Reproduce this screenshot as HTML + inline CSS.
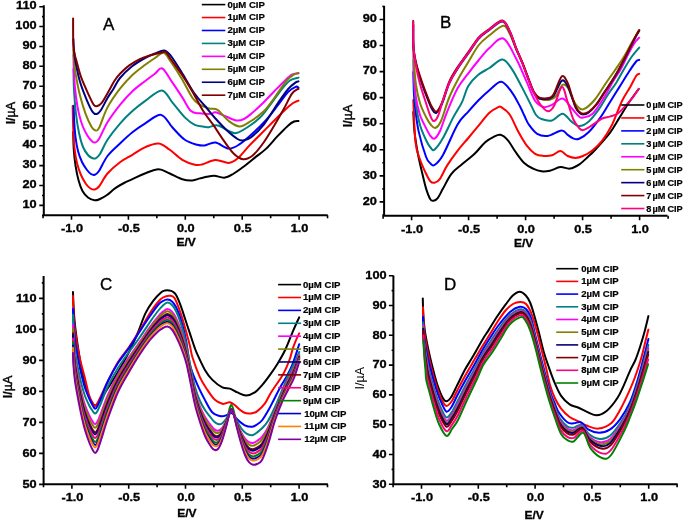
<!DOCTYPE html><html><head><meta charset="utf-8"><style>html,body{margin:0;padding:0;background:#fff;}svg{display:block;filter:blur(0.55px);}text{font-family:"Liberation Sans", sans-serif;}</style></head><body>
<svg width="685" height="521" viewBox="0 0 685 521">
<rect width="685" height="521" fill="#fff"/>
<g><path d="M73.20 132.00 C73.30 135.00 73.40 144.33 73.80 150.00 C74.20 155.67 74.80 160.92 75.60 166.00 C76.40 171.08 77.45 176.33 78.60 180.50 C79.75 184.67 80.93 188.17 82.50 191.00 C84.07 193.83 85.98 195.95 88.00 197.50 C90.02 199.05 92.60 200.05 94.60 200.30 C96.60 200.55 97.93 199.88 100.00 199.00 C102.07 198.12 104.50 196.77 107.00 195.00 C109.50 193.23 112.17 190.40 115.00 188.40 C117.83 186.40 121.10 184.53 124.00 183.00 C126.90 181.47 128.92 180.78 132.40 179.20 C135.88 177.62 140.53 175.17 144.90 173.50 C149.27 171.83 154.45 169.20 158.60 169.20 C162.75 169.20 165.85 171.83 169.80 173.50 C173.75 175.17 178.55 178.05 182.30 179.20 C186.05 180.35 189.35 180.53 192.30 180.40 C195.25 180.27 197.62 179.00 200.00 178.40 C202.38 177.80 204.22 177.25 206.60 176.80 C208.98 176.35 211.35 175.55 214.30 175.70 C217.25 175.85 221.17 177.98 224.30 177.70 C227.43 177.42 229.78 175.92 233.10 174.00 C236.42 172.08 240.52 168.97 244.20 166.20 C247.88 163.43 251.53 160.33 255.20 157.40 C258.87 154.47 262.52 152.10 266.20 148.60 C269.88 145.10 273.62 140.27 277.30 136.40 C280.98 132.53 285.52 127.88 288.30 125.40 C291.08 122.92 292.30 122.23 294.00 121.50 C295.70 120.77 297.75 121.08 298.50 121.00" fill="none" stroke="#000000" stroke-width="2.0" stroke-linejoin="round" stroke-linecap="round"/><path d="M72.70 106.00 C72.78 109.67 72.90 121.00 73.20 128.00 C73.50 135.00 73.87 142.17 74.50 148.00 C75.13 153.83 75.92 158.50 77.00 163.00 C78.08 167.50 79.50 171.50 81.00 175.00 C82.50 178.50 84.42 181.75 86.00 184.00 C87.58 186.25 89.07 187.58 90.50 188.50 C91.93 189.42 93.18 189.83 94.60 189.50 C96.02 189.17 96.85 189.17 99.00 186.50 C101.15 183.83 104.00 177.55 107.50 173.50 C111.00 169.45 115.85 165.32 120.00 162.20 C124.15 159.08 128.25 157.28 132.40 154.80 C136.55 152.32 140.53 149.18 144.90 147.30 C149.27 145.42 154.45 143.08 158.60 143.50 C162.75 143.92 165.85 147.08 169.80 149.80 C173.75 152.52 178.13 157.32 182.30 159.80 C186.47 162.28 191.52 163.92 194.80 164.70 C198.08 165.48 198.55 165.28 202.00 164.50 C205.45 163.72 211.05 160.27 215.50 160.00 C219.95 159.73 225.03 163.15 228.70 162.90 C232.37 162.65 234.18 161.25 237.50 158.50 C240.82 155.75 244.92 150.27 248.60 146.40 C252.28 142.53 255.57 139.37 259.60 135.30 C263.63 131.23 268.75 126.05 272.80 122.00 C276.85 117.95 280.58 114.12 283.90 111.00 C287.22 107.88 290.27 105.03 292.70 103.30 C295.13 101.57 297.53 101.05 298.50 100.60" fill="none" stroke="#ff0000" stroke-width="2.0" stroke-linejoin="round" stroke-linecap="round"/><path d="M73.80 105.70 C73.85 108.08 73.82 114.78 74.10 120.00 C74.38 125.22 74.85 131.83 75.50 137.00 C76.15 142.17 76.92 146.83 78.00 151.00 C79.08 155.17 80.50 158.83 82.00 162.00 C83.50 165.17 85.50 168.00 87.00 170.00 C88.50 172.00 89.73 173.20 91.00 174.00 C92.27 174.80 93.27 175.30 94.60 174.80 C95.93 174.30 96.85 174.13 99.00 171.00 C101.15 167.87 104.00 160.58 107.50 156.00 C111.00 151.42 115.85 147.45 120.00 143.50 C124.15 139.55 128.25 135.62 132.40 132.30 C136.55 128.98 140.12 126.50 144.90 123.60 C149.68 120.70 156.53 114.28 161.10 114.90 C165.67 115.52 168.35 123.15 172.30 127.30 C176.25 131.45 180.65 136.88 184.80 139.80 C188.95 142.72 193.88 143.85 197.20 144.80 C200.52 145.75 201.65 145.87 204.70 145.50 C207.75 145.13 211.50 142.08 215.50 142.60 C219.50 143.12 224.67 148.33 228.70 148.60 C232.73 148.87 235.65 146.78 239.70 144.20 C243.75 141.62 248.58 137.15 253.00 133.10 C257.42 129.05 262.15 124.42 266.20 119.90 C270.25 115.38 273.67 110.65 277.30 106.00 C280.93 101.35 284.93 95.20 288.00 92.00 C291.07 88.80 293.95 87.53 295.70 86.80 C297.45 86.07 298.03 87.47 298.50 87.60" fill="none" stroke="#0000ff" stroke-width="2.0" stroke-linejoin="round" stroke-linecap="round"/><path d="M73.50 69.00 C73.58 72.50 73.58 82.50 74.00 90.00 C74.42 97.50 75.17 106.83 76.00 114.00 C76.83 121.17 77.83 127.50 79.00 133.00 C80.17 138.50 81.50 143.33 83.00 147.00 C84.50 150.67 86.50 153.17 88.00 155.00 C89.50 156.83 90.72 157.45 92.00 158.00 C93.28 158.55 94.37 158.97 95.70 158.30 C97.03 157.63 98.03 157.08 100.00 154.00 C101.97 150.92 104.17 144.87 107.50 139.80 C110.83 134.73 115.85 128.38 120.00 123.60 C124.15 118.82 128.25 114.85 132.40 111.10 C136.55 107.35 140.00 104.55 144.90 101.10 C149.80 97.65 157.23 90.18 161.80 90.40 C166.37 90.62 168.47 97.90 172.30 102.40 C176.13 106.90 181.05 113.67 184.80 117.40 C188.55 121.13 191.48 123.23 194.80 124.80 C198.12 126.37 202.37 126.40 204.70 126.80 C207.03 127.20 206.63 127.43 208.80 127.20 C210.97 126.97 214.38 124.78 217.70 125.40 C221.02 126.02 225.58 129.62 228.70 130.90 C231.82 132.18 233.08 133.83 236.40 133.10 C239.72 132.37 244.67 129.10 248.60 126.50 C252.53 123.90 256.60 120.85 260.00 117.50 C263.40 114.15 265.62 110.82 269.00 106.40 C272.38 101.98 276.82 95.32 280.30 91.00 C283.78 86.68 286.87 82.73 289.90 80.50 C292.93 78.27 297.07 78.08 298.50 77.60" fill="none" stroke="#008080" stroke-width="2.0" stroke-linejoin="round" stroke-linecap="round"/><path d="M73.50 55.00 C73.58 58.33 73.58 68.00 74.00 75.00 C74.42 82.00 75.17 90.50 76.00 97.00 C76.83 103.50 77.83 109.00 79.00 114.00 C80.17 119.00 81.50 123.25 83.00 127.00 C84.50 130.75 86.50 134.13 88.00 136.50 C89.50 138.87 90.83 140.20 92.00 141.20 C93.17 142.20 93.83 142.87 95.00 142.50 C96.17 142.13 96.92 142.37 99.00 139.00 C101.08 135.63 104.00 127.98 107.50 122.30 C111.00 116.62 115.85 110.08 120.00 104.90 C124.15 99.72 128.25 95.15 132.40 91.20 C136.55 87.25 141.15 84.12 144.90 81.20 C148.65 78.28 152.00 75.82 154.90 73.70 C157.80 71.58 159.40 67.05 162.30 68.50 C165.20 69.95 168.97 77.58 172.30 82.40 C175.63 87.22 179.18 92.62 182.30 97.40 C185.42 102.18 188.10 108.45 191.00 111.10 C193.90 113.75 196.33 112.85 199.70 113.30 C203.07 113.75 208.58 113.97 211.20 113.80 C213.82 113.63 212.93 111.85 215.40 112.30 C217.87 112.75 222.50 115.13 226.00 116.50 C229.50 117.87 233.40 120.08 236.40 120.50 C239.40 120.92 241.48 120.17 244.00 119.00 C246.52 117.83 248.33 116.17 251.50 113.50 C254.67 110.83 259.17 106.75 263.00 103.00 C266.83 99.25 270.98 94.60 274.50 91.00 C278.02 87.40 281.22 84.12 284.10 81.40 C286.98 78.68 289.40 76.10 291.80 74.70 C294.20 73.30 297.38 73.28 298.50 73.00" fill="none" stroke="#ff00ff" stroke-width="2.0" stroke-linejoin="round" stroke-linecap="round"/><path d="M73.30 49.50 C73.42 51.25 73.65 56.15 74.00 60.00 C74.35 63.85 74.40 66.67 75.40 72.60 C76.40 78.53 78.28 88.68 80.00 95.60 C81.72 102.52 83.78 108.90 85.70 114.10 C87.62 119.30 89.95 124.10 91.50 126.80 C93.05 129.50 93.75 130.10 95.00 130.30 C96.25 130.50 96.92 131.82 99.00 128.00 C101.08 124.18 104.00 113.95 107.50 107.40 C111.00 100.85 115.85 94.10 120.00 88.70 C124.15 83.30 128.25 78.95 132.40 75.00 C136.55 71.05 141.13 67.83 144.90 65.00 C148.67 62.17 151.87 60.03 155.00 58.00 C158.13 55.97 161.03 52.13 163.70 52.80 C166.37 53.47 168.02 57.72 171.00 62.00 C173.98 66.28 178.07 72.58 181.60 78.50 C185.13 84.42 189.38 93.28 192.20 97.50 C195.02 101.72 195.70 101.97 198.50 103.80 C201.30 105.63 205.83 107.48 209.00 108.50 C212.17 109.52 214.22 107.82 217.50 109.90 C220.78 111.98 225.00 118.23 228.70 121.00 C232.40 123.77 235.98 126.50 239.70 126.50 C243.42 126.50 246.95 123.58 251.00 121.00 C255.05 118.42 260.00 115.00 264.00 111.00 C268.00 107.00 271.33 101.93 275.00 97.00 C278.67 92.07 282.88 85.12 286.00 81.40 C289.12 77.68 291.62 76.03 293.70 74.70 C295.78 73.37 297.70 73.62 298.50 73.40" fill="none" stroke="#808000" stroke-width="2.0" stroke-linejoin="round" stroke-linecap="round"/><path d="M73.30 39.00 C73.42 40.83 73.65 46.33 74.00 50.00 C74.35 53.67 74.40 55.70 75.40 61.00 C76.40 66.30 78.08 75.25 80.00 81.80 C81.92 88.35 84.80 95.30 86.90 100.30 C89.00 105.30 90.95 109.52 92.60 111.80 C94.25 114.08 95.40 114.30 96.80 114.00 C98.20 113.70 99.22 112.67 101.00 110.00 C102.78 107.33 105.43 101.50 107.50 98.00 C109.57 94.50 111.32 92.33 113.40 89.00 C115.48 85.67 116.83 81.83 120.00 78.00 C123.17 74.17 128.23 69.33 132.40 66.00 C136.57 62.67 141.23 60.08 145.00 58.00 C148.77 55.92 151.78 54.75 155.00 53.50 C158.22 52.25 161.63 50.08 164.30 50.50 C166.97 50.92 168.12 52.38 171.00 56.00 C173.88 59.62 177.72 65.98 181.60 72.20 C185.48 78.42 190.40 87.67 194.30 93.30 C198.20 98.93 201.55 101.88 205.00 106.00 C208.45 110.12 211.42 114.00 215.00 118.00 C218.58 122.00 222.75 126.50 226.50 130.00 C230.25 133.50 234.75 137.27 237.50 139.00 C240.25 140.73 240.78 140.65 243.00 140.40 C245.22 140.15 247.30 140.18 250.80 137.50 C254.30 134.82 259.47 130.05 264.00 124.30 C268.53 118.55 274.00 108.87 278.00 103.00 C282.00 97.13 285.05 92.53 288.00 89.10 C290.95 85.67 293.95 83.68 295.70 82.40 C297.45 81.12 298.03 81.57 298.50 81.40" fill="none" stroke="#000080" stroke-width="2.0" stroke-linejoin="round" stroke-linecap="round"/><path d="M73.10 18.50 C73.17 23.30 72.93 40.20 73.50 47.30 C74.07 54.40 75.23 56.12 76.50 61.10 C77.77 66.08 79.18 71.83 81.10 77.20 C83.02 82.57 85.88 88.68 88.00 93.30 C90.12 97.92 92.25 102.78 93.80 104.90 C95.35 107.02 95.95 106.38 97.30 106.00 C98.65 105.62 99.98 105.10 101.90 102.60 C103.82 100.10 106.70 94.65 108.80 91.00 C110.90 87.35 112.63 83.58 114.50 80.70 C116.37 77.82 117.53 76.25 120.00 73.70 C122.47 71.15 126.00 67.83 129.30 65.40 C132.60 62.97 136.28 60.78 139.80 59.10 C143.32 57.42 146.88 56.37 150.40 55.30 C153.92 54.23 158.33 53.22 160.90 52.70 C163.47 52.18 164.10 51.07 165.80 52.20 C167.50 53.33 168.47 55.82 171.10 59.50 C173.73 63.18 178.08 69.02 181.60 74.30 C185.12 79.58 188.68 85.22 192.20 91.20 C195.72 97.18 199.18 104.58 202.70 110.20 C206.22 115.82 210.13 120.33 213.30 124.90 C216.47 129.47 218.40 132.92 221.70 137.60 C225.00 142.28 229.55 149.40 233.10 153.00 C236.65 156.60 239.68 158.83 243.00 159.20 C246.32 159.57 249.50 158.07 253.00 155.20 C256.50 152.33 260.33 147.15 264.00 142.00 C267.67 136.85 271.68 129.83 275.00 124.30 C278.32 118.77 281.10 113.87 283.90 108.80 C286.70 103.73 289.52 97.18 291.80 93.90 C294.08 90.62 296.48 89.92 297.60 89.10 C298.72 88.28 298.35 89.02 298.50 89.00" fill="none" stroke="#800000" stroke-width="2.0" stroke-linejoin="round" stroke-linecap="round"/><path d="M43.80 5.20 V215.30 H327.70" fill="none" stroke="#000" stroke-width="2.0"/><text transform="translate(36.60 208.10) scale(1.100 1)" font-size="11.60" font-weight="bold" text-anchor="end" stroke="#000" stroke-width="0.35">10</text><text transform="translate(36.60 188.23) scale(1.100 1)" font-size="11.60" font-weight="bold" text-anchor="end" stroke="#000" stroke-width="0.35">20</text><text transform="translate(36.60 168.36) scale(1.100 1)" font-size="11.60" font-weight="bold" text-anchor="end" stroke="#000" stroke-width="0.35">30</text><text transform="translate(36.60 148.49) scale(1.100 1)" font-size="11.60" font-weight="bold" text-anchor="end" stroke="#000" stroke-width="0.35">40</text><text transform="translate(36.60 128.62) scale(1.100 1)" font-size="11.60" font-weight="bold" text-anchor="end" stroke="#000" stroke-width="0.35">50</text><text transform="translate(36.60 108.75) scale(1.100 1)" font-size="11.60" font-weight="bold" text-anchor="end" stroke="#000" stroke-width="0.35">60</text><text transform="translate(36.60 88.88) scale(1.100 1)" font-size="11.60" font-weight="bold" text-anchor="end" stroke="#000" stroke-width="0.35">70</text><text transform="translate(36.60 69.01) scale(1.100 1)" font-size="11.60" font-weight="bold" text-anchor="end" stroke="#000" stroke-width="0.35">80</text><text transform="translate(36.60 49.14) scale(1.100 1)" font-size="11.60" font-weight="bold" text-anchor="end" stroke="#000" stroke-width="0.35">90</text><text transform="translate(36.60 29.27) scale(1.100 1)" font-size="11.60" font-weight="bold" text-anchor="end" stroke="#000" stroke-width="0.35">100</text><text transform="translate(36.60 9.40) scale(1.100 1)" font-size="11.60" font-weight="bold" text-anchor="end" stroke="#000" stroke-width="0.35">110</text><text transform="translate(72.00 232.10) scale(1.100 1)" font-size="11.60" font-weight="bold" text-anchor="middle" stroke="#000" stroke-width="0.35">-1.0</text><text transform="translate(128.90 232.10) scale(1.100 1)" font-size="11.60" font-weight="bold" text-anchor="middle" stroke="#000" stroke-width="0.35">-0.5</text><text transform="translate(185.80 232.10) scale(1.100 1)" font-size="11.60" font-weight="bold" text-anchor="middle" stroke="#000" stroke-width="0.35">0.0</text><text transform="translate(242.70 232.10) scale(1.100 1)" font-size="11.60" font-weight="bold" text-anchor="middle" stroke="#000" stroke-width="0.35">0.5</text><text transform="translate(299.60 232.10) scale(1.100 1)" font-size="11.60" font-weight="bold" text-anchor="middle" stroke="#000" stroke-width="0.35">1.0</text><path d="M39.30 205.40H43.80M39.30 185.53H43.80M39.30 165.66H43.80M39.30 145.79H43.80M39.30 125.92H43.80M39.30 106.05H43.80M39.30 86.18H43.80M39.30 66.31H43.80M39.30 46.44H43.80M39.30 26.57H43.80M39.30 6.70H43.80M42.00 215.34H43.80M42.00 195.47H43.80M42.00 175.59H43.80M42.00 155.72H43.80M42.00 135.86H43.80M42.00 115.98H43.80M42.00 96.11H43.80M42.00 76.25H43.80M42.00 56.38H43.80M42.00 36.50H43.80M42.00 16.63H43.80M71.50 215.30V219.80M128.40 215.30V219.80M185.30 215.30V219.80M242.20 215.30V219.80M299.10 215.30V219.80M43.05 215.30V218.30M99.95 215.30V218.30M156.85 215.30V218.30M213.75 215.30V218.30M270.65 215.30V218.30M327.55 215.30V218.30" fill="none" stroke="#000" stroke-width="1.6"/><text transform="translate(186.10 246.10) scale(1.060 1)" font-size="11.30" font-weight="bold" text-anchor="middle" stroke="#000" stroke-width="0.3">E/V</text><text transform="translate(14.50 113.10) rotate(-90)" font-size="12.5" text-anchor="middle"><tspan font-weight="bold" stroke="#000" stroke-width="0.2">I/</tspan><tspan font-weight="normal" stroke="#000" stroke-width="0.45">µA</tspan></text><text x="103.00" y="29.80" font-size="17" stroke="#000" stroke-width="0.35">A</text><path d="M201.80 4.60H225.30" stroke="#000000" stroke-width="1.6"/><text x="227.40" y="7.55" font-size="9.6" font-weight="bold" stroke="#000" stroke-width="0.2">0µM CIP</text><path d="M201.80 17.54H225.30" stroke="#ff0000" stroke-width="1.6"/><text x="227.40" y="20.49" font-size="9.6" font-weight="bold" stroke="#000" stroke-width="0.2">1µM CIP</text><path d="M201.80 30.48H225.30" stroke="#0000ff" stroke-width="1.6"/><text x="227.40" y="33.43" font-size="9.6" font-weight="bold" stroke="#000" stroke-width="0.2">2µM CIP</text><path d="M201.80 43.42H225.30" stroke="#008080" stroke-width="1.6"/><text x="227.40" y="46.37" font-size="9.6" font-weight="bold" stroke="#000" stroke-width="0.2">3µM CIP</text><path d="M201.80 56.36H225.30" stroke="#ff00ff" stroke-width="1.6"/><text x="227.40" y="59.31" font-size="9.6" font-weight="bold" stroke="#000" stroke-width="0.2">4µM CIP</text><path d="M201.80 69.30H225.30" stroke="#808000" stroke-width="1.6"/><text x="227.40" y="72.25" font-size="9.6" font-weight="bold" stroke="#000" stroke-width="0.2">5µM CIP</text><path d="M201.80 82.24H225.30" stroke="#000080" stroke-width="1.6"/><text x="227.40" y="85.19" font-size="9.6" font-weight="bold" stroke="#000" stroke-width="0.2">6µM CIP</text><path d="M201.80 95.18H225.30" stroke="#800000" stroke-width="1.6"/><text x="227.40" y="98.13" font-size="9.6" font-weight="bold" stroke="#000" stroke-width="0.2">7µM CIP</text></g>
<g><path d="M413.30 112.00 C413.50 115.27 413.77 124.82 414.50 131.60 C415.23 138.38 416.47 146.02 417.70 152.70 C418.93 159.38 420.50 165.72 421.90 171.70 C423.30 177.68 424.70 184.02 426.10 188.60 C427.50 193.18 429.07 197.17 430.30 199.20 C431.53 201.23 432.27 200.98 433.50 200.80 C434.73 200.62 436.12 200.13 437.70 198.10 C439.28 196.07 440.72 192.65 443.00 188.60 C445.28 184.55 448.23 177.85 451.40 173.80 C454.57 169.75 458.13 167.63 462.00 164.30 C465.87 160.97 470.73 157.48 474.60 153.80 C478.47 150.12 482.03 145.02 485.20 142.20 C488.37 139.38 491.08 138.13 493.60 136.90 C496.12 135.67 497.95 134.27 500.30 134.80 C502.65 135.33 505.07 137.12 507.70 140.10 C510.33 143.08 513.30 148.83 516.10 152.70 C518.90 156.57 521.68 160.65 524.50 163.30 C527.32 165.95 530.18 167.27 533.00 168.60 C535.82 169.93 538.58 170.95 541.40 171.30 C544.22 171.65 546.73 171.40 549.90 170.70 C553.07 170.00 557.07 167.45 560.40 167.10 C563.73 166.75 566.73 169.07 569.90 168.60 C573.07 168.13 576.42 166.23 579.40 164.30 C582.38 162.37 585.20 159.38 587.80 157.00 C590.40 154.62 591.32 154.02 595.00 150.00 C598.68 145.98 605.82 138.30 609.90 132.90 C613.98 127.50 616.30 122.72 619.50 117.60 C622.70 112.48 625.90 106.97 629.10 102.20 C632.30 97.43 637.10 91.20 638.70 89.00" fill="none" stroke="#000000" stroke-width="2.0" stroke-linejoin="round" stroke-linecap="round"/><path d="M413.30 100.00 C413.67 107.03 414.42 132.37 415.50 142.20 C416.58 152.03 418.03 153.73 419.80 159.00 C421.57 164.27 424.35 170.10 426.10 173.80 C427.85 177.50 428.90 179.72 430.30 181.20 C431.70 182.68 432.92 183.05 434.50 182.70 C436.08 182.35 437.68 181.98 439.80 179.10 C441.92 176.22 444.22 170.15 447.20 165.40 C450.18 160.65 454.18 155.17 457.70 150.60 C461.22 146.03 464.78 142.22 468.30 138.00 C471.82 133.78 475.28 129.52 478.80 125.30 C482.32 121.08 486.23 115.68 489.40 112.70 C492.57 109.72 495.82 108.32 497.80 107.40 C499.78 106.48 499.30 105.97 501.30 107.20 C503.30 108.43 506.98 110.73 509.80 114.80 C512.62 118.87 515.40 126.50 518.20 131.60 C521.00 136.70 523.78 141.70 526.60 145.40 C529.42 149.10 532.28 152.05 535.10 153.80 C537.92 155.55 540.68 155.65 543.50 155.90 C546.32 156.15 549.18 156.10 552.00 155.30 C554.82 154.50 557.78 150.98 560.40 151.10 C563.02 151.22 565.20 154.87 567.70 156.00 C570.20 157.13 572.85 157.90 575.40 157.90 C577.95 157.90 580.13 157.28 583.00 156.00 C585.87 154.72 589.40 152.77 592.60 150.20 C595.80 147.63 599.00 144.75 602.20 140.60 C605.40 136.45 608.50 131.90 611.80 125.30 C615.10 118.70 618.88 107.47 622.00 101.00 C625.12 94.53 628.15 90.67 630.50 86.50 C632.85 82.33 634.65 78.12 636.10 76.00 C637.55 73.88 638.68 74.17 639.20 73.80" fill="none" stroke="#ff0000" stroke-width="2.0" stroke-linejoin="round" stroke-linecap="round"/><path d="M413.30 72.00 C413.42 75.83 413.63 88.58 414.00 95.00 C414.37 101.42 414.72 104.40 415.50 110.50 C416.28 116.60 416.93 123.85 418.70 131.60 C420.47 139.35 424.13 151.68 426.10 157.00 C428.07 162.32 429.10 162.17 430.50 163.50 C431.90 164.83 432.42 166.43 434.50 165.00 C436.58 163.57 439.13 161.68 443.00 154.90 C446.87 148.12 453.48 131.52 457.70 124.30 C461.92 117.08 464.78 115.65 468.30 111.60 C471.82 107.55 475.28 103.57 478.80 100.00 C482.32 96.43 485.65 93.25 489.40 90.20 C493.15 87.15 497.55 81.35 501.30 81.70 C505.05 82.05 508.73 88.08 511.90 92.30 C515.07 96.52 518.20 103.05 520.30 107.00 C522.40 110.95 523.08 113.08 524.50 116.00 C525.92 118.92 526.68 121.53 528.80 124.50 C530.92 127.47 534.05 131.90 537.20 133.80 C540.35 135.70 543.65 136.43 547.70 135.90 C551.75 135.37 558.17 130.77 561.50 130.60 C564.83 130.43 565.77 133.60 567.70 134.90 C569.63 136.20 571.18 137.77 573.10 138.40 C575.02 139.03 576.58 139.77 579.20 138.70 C581.82 137.63 585.28 135.52 588.80 132.00 C592.32 128.48 596.78 122.57 600.30 117.60 C603.82 112.63 606.70 107.32 609.90 102.20 C613.10 97.08 616.30 92.02 619.50 86.90 C622.70 81.78 626.33 75.73 629.10 71.50 C631.87 67.27 634.42 63.43 636.10 61.50 C637.78 59.57 638.68 60.17 639.20 59.90" fill="none" stroke="#0000ff" stroke-width="2.0" stroke-linejoin="round" stroke-linecap="round"/><path d="M413.50 60.00 C413.58 63.33 413.58 72.50 414.00 80.00 C414.42 87.50 415.00 97.50 416.00 105.00 C417.00 112.50 418.33 119.17 420.00 125.00 C421.67 130.83 424.25 136.25 426.00 140.00 C427.75 143.75 429.08 145.90 430.50 147.50 C431.92 149.10 432.42 151.18 434.50 149.60 C436.58 148.02 439.83 143.45 443.00 138.00 C446.17 132.55 450.33 122.88 453.50 116.90 C456.67 110.92 459.53 107.25 462.00 102.10 C464.47 96.95 465.63 90.52 468.30 86.00 C470.97 81.48 474.48 78.00 478.00 75.00 C481.52 72.00 485.33 70.57 489.40 68.00 C493.47 65.43 498.65 59.42 502.40 59.60 C506.15 59.78 508.57 64.35 511.90 69.10 C515.23 73.85 519.23 82.13 522.40 88.10 C525.57 94.07 528.63 100.42 530.90 104.90 C533.17 109.38 534.25 112.65 536.00 115.00 C537.75 117.35 538.73 118.08 541.40 119.00 C544.07 119.92 548.48 121.38 552.00 120.50 C555.52 119.62 559.33 113.60 562.50 113.70 C565.67 113.80 568.22 119.05 571.00 121.10 C573.78 123.15 576.23 125.95 579.20 126.00 C582.17 126.05 585.60 124.08 588.80 121.40 C592.00 118.72 595.20 114.38 598.40 109.90 C601.60 105.42 605.05 98.98 608.00 94.50 C610.95 90.02 613.47 87.17 616.10 83.00 C618.73 78.83 621.23 73.83 623.80 69.50 C626.37 65.17 628.93 60.65 631.50 57.00 C634.07 53.35 637.92 49.17 639.20 47.60" fill="none" stroke="#008080" stroke-width="2.0" stroke-linejoin="round" stroke-linecap="round"/><path d="M413.50 52.00 C413.58 55.83 413.58 67.33 414.00 75.00 C414.42 82.67 415.00 91.33 416.00 98.00 C417.00 104.67 418.33 110.00 420.00 115.00 C421.67 120.00 424.25 124.50 426.00 128.00 C427.75 131.50 429.08 134.23 430.50 136.00 C431.92 137.77 432.92 139.43 434.50 138.60 C436.08 137.77 437.92 135.43 440.00 131.00 C442.08 126.57 444.05 119.17 447.00 112.00 C449.95 104.83 454.15 94.45 457.70 88.00 C461.25 81.55 464.78 77.97 468.30 73.30 C471.82 68.63 475.28 64.22 478.80 60.00 C482.32 55.78 485.30 51.58 489.40 48.00 C493.50 44.42 498.95 36.75 503.40 38.50 C507.85 40.25 512.23 51.30 516.10 58.50 C519.97 65.70 523.43 74.67 526.60 81.70 C529.77 88.73 532.28 96.48 535.10 100.70 C537.92 104.92 540.68 106.30 543.50 107.00 C546.32 107.70 548.83 106.30 552.00 104.90 C555.17 103.50 559.25 98.08 562.50 98.60 C565.75 99.12 568.72 105.00 571.50 108.00 C574.28 111.00 577.28 115.00 579.20 116.60 C581.12 118.20 580.77 118.08 583.00 117.60 C585.23 117.12 589.10 117.05 592.60 113.70 C596.10 110.35 600.60 102.88 604.00 97.50 C607.40 92.12 610.22 86.12 613.00 81.40 C615.78 76.68 618.13 73.80 620.70 69.20 C623.27 64.60 626.10 58.17 628.40 53.80 C630.70 49.43 632.70 45.68 634.50 43.00 C636.30 40.32 638.42 38.58 639.20 37.70" fill="none" stroke="#ff00ff" stroke-width="2.0" stroke-linejoin="round" stroke-linecap="round"/><path d="M413.50 45.00 C413.58 47.83 413.58 55.33 414.00 62.00 C414.42 68.67 415.00 78.17 416.00 85.00 C417.00 91.83 418.33 97.67 420.00 103.00 C421.67 108.33 424.17 113.33 426.00 117.00 C427.83 120.67 429.40 123.20 431.00 125.00 C432.60 126.80 433.93 128.47 435.60 127.80 C437.27 127.13 438.77 125.97 441.00 121.00 C443.23 116.03 446.22 104.83 449.00 98.00 C451.78 91.17 454.48 86.00 457.70 80.00 C460.92 74.00 464.78 67.83 468.30 62.00 C471.82 56.17 475.28 49.45 478.80 45.00 C482.32 40.55 485.30 38.50 489.40 35.30 C493.50 32.10 500.00 26.02 503.40 25.80 C506.80 25.58 507.68 30.13 509.80 34.00 C511.92 37.87 514.00 44.17 516.10 49.00 C518.20 53.83 520.28 57.83 522.40 63.00 C524.52 68.17 526.87 75.17 528.80 80.00 C530.73 84.83 532.13 88.92 534.00 92.00 C535.87 95.08 537.35 97.22 540.00 98.50 C542.65 99.78 547.23 100.12 549.90 99.70 C552.57 99.28 553.90 98.47 556.00 96.00 C558.10 93.53 560.50 86.23 562.50 84.90 C564.50 83.57 566.23 85.48 568.00 88.00 C569.77 90.52 571.43 96.83 573.10 100.00 C574.77 103.17 576.25 105.47 578.00 107.00 C579.75 108.53 580.85 110.37 583.60 109.20 C586.35 108.03 590.77 104.37 594.50 100.00 C598.23 95.63 602.65 87.88 606.00 83.00 C609.35 78.12 611.63 75.03 614.60 70.70 C617.57 66.37 621.07 61.45 623.80 57.00 C626.53 52.55 628.97 47.58 631.00 44.00 C633.03 40.42 634.63 37.67 636.00 35.50 C637.37 33.33 638.67 31.75 639.20 31.00" fill="none" stroke="#808000" stroke-width="2.0" stroke-linejoin="round" stroke-linecap="round"/><path d="M413.30 25.00 C413.35 29.17 413.02 43.00 413.60 50.00 C414.18 57.00 415.40 61.33 416.80 67.00 C418.20 72.67 420.10 78.42 422.00 84.00 C423.90 89.58 426.53 96.33 428.20 100.50 C429.87 104.67 430.70 106.92 432.00 109.00 C433.30 111.08 434.35 113.83 436.00 113.00 C437.65 112.17 439.68 109.00 441.90 104.00 C444.12 99.00 446.67 88.92 449.30 83.00 C451.93 77.08 454.53 73.42 457.70 68.50 C460.87 63.58 464.78 58.50 468.30 53.50 C471.82 48.50 475.28 42.42 478.80 38.50 C482.32 34.58 485.47 32.83 489.40 30.00 C493.33 27.17 499.00 21.17 502.40 21.50 C505.80 21.83 507.52 27.50 509.80 32.00 C512.08 36.50 514.00 43.33 516.10 48.50 C518.20 53.67 520.28 57.75 522.40 63.00 C524.52 68.25 526.87 75.00 528.80 80.00 C530.73 85.00 532.25 89.92 534.00 93.00 C535.75 96.08 536.65 97.58 539.30 98.50 C541.95 99.42 547.43 99.08 549.90 98.50 C552.37 97.92 552.10 97.97 554.10 95.00 C556.10 92.03 559.63 82.20 561.90 80.70 C564.17 79.20 566.10 83.45 567.70 86.00 C569.30 88.55 570.22 92.50 571.50 96.00 C572.78 99.50 574.12 104.25 575.40 107.00 C576.68 109.75 577.93 111.25 579.20 112.50 C580.47 113.75 581.40 114.50 583.00 114.50 C584.60 114.50 586.55 114.17 588.80 112.50 C591.05 110.83 593.95 107.75 596.50 104.50 C599.05 101.25 601.55 96.83 604.10 93.00 C606.65 89.17 609.55 85.00 611.80 81.50 C614.05 78.00 615.35 76.00 617.60 72.00 C619.85 68.00 622.98 62.00 625.30 57.50 C627.62 53.00 629.70 48.58 631.50 45.00 C633.30 41.42 634.82 38.42 636.10 36.00 C637.38 33.58 638.68 31.42 639.20 30.50" fill="none" stroke="#000080" stroke-width="2.0" stroke-linejoin="round" stroke-linecap="round"/><path d="M413.20 21.00 C413.25 25.38 412.93 39.98 413.50 47.30 C414.07 54.62 415.20 59.17 416.60 64.90 C418.00 70.63 419.97 76.08 421.90 81.70 C423.83 87.32 426.52 94.38 428.20 98.60 C429.88 102.82 430.60 104.83 432.00 107.00 C433.40 109.17 434.95 112.30 436.60 111.60 C438.25 110.90 439.78 107.78 441.90 102.80 C444.02 97.82 446.67 87.67 449.30 81.70 C451.93 75.73 454.53 71.92 457.70 67.00 C460.87 62.08 464.78 57.13 468.30 52.20 C471.82 47.27 475.28 41.27 478.80 37.40 C482.32 33.53 485.47 31.82 489.40 29.00 C493.33 26.18 499.00 20.15 502.40 20.50 C505.80 20.85 507.52 26.52 509.80 31.10 C512.08 35.68 514.00 42.73 516.10 48.00 C518.20 53.27 520.28 57.43 522.40 62.70 C524.52 67.97 526.87 74.67 528.80 79.60 C530.73 84.53 532.25 89.30 534.00 92.30 C535.75 95.30 536.65 96.72 539.30 97.60 C541.95 98.48 547.43 98.32 549.90 97.60 C552.37 96.88 552.10 96.85 554.10 93.30 C556.10 89.75 559.63 78.02 561.90 76.30 C564.17 74.58 566.10 79.97 567.70 83.00 C569.30 86.03 570.22 90.65 571.50 94.50 C572.78 98.35 574.12 103.22 575.40 106.10 C576.68 108.98 577.93 110.53 579.20 111.80 C580.47 113.07 581.40 113.70 583.00 113.70 C584.60 113.70 586.55 113.40 588.80 111.80 C591.05 110.20 593.95 107.30 596.50 104.10 C599.05 100.90 601.55 96.43 604.10 92.60 C606.65 88.77 609.55 84.62 611.80 81.10 C614.05 77.58 615.35 75.53 617.60 71.50 C619.85 67.47 622.98 61.38 625.30 56.90 C627.62 52.42 629.70 48.18 631.50 44.60 C633.30 41.02 634.82 37.83 636.10 35.40 C637.38 32.97 638.68 30.90 639.20 30.00" fill="none" stroke="#800000" stroke-width="2.0" stroke-linejoin="round" stroke-linecap="round"/><path d="M413.20 22.00 C413.25 26.22 413.03 39.97 413.50 47.30 C413.97 54.63 414.92 59.88 416.00 66.00 C417.08 72.12 418.33 77.83 420.00 84.00 C421.67 90.17 424.33 97.83 426.00 103.00 C427.67 108.17 428.75 111.98 430.00 115.00 C431.25 118.02 432.17 120.93 433.50 121.10 C434.83 121.27 436.42 119.52 438.00 116.00 C439.58 112.48 441.12 105.50 443.00 100.00 C444.88 94.50 446.85 88.33 449.30 83.00 C451.75 77.67 454.53 73.00 457.70 68.00 C460.87 63.00 464.78 58.00 468.30 53.00 C471.82 48.00 475.28 41.92 478.80 38.00 C482.32 34.08 485.47 32.33 489.40 29.50 C493.33 26.67 499.00 20.67 502.40 21.00 C505.80 21.33 507.52 26.92 509.80 31.50 C512.08 36.08 514.00 43.17 516.10 48.50 C518.20 53.83 520.28 58.17 522.40 63.50 C524.52 68.83 526.87 75.58 528.80 80.50 C530.73 85.42 532.13 89.08 534.00 93.00 C535.87 96.92 537.72 100.95 540.00 104.00 C542.28 107.05 545.37 110.97 547.70 111.30 C550.03 111.63 551.63 110.05 554.00 106.00 C556.37 101.95 559.62 87.63 561.90 87.00 C564.18 86.37 565.78 96.78 567.70 102.20 C569.62 107.62 571.48 115.18 573.40 119.50 C575.32 123.82 577.60 126.33 579.20 128.10 C580.80 129.87 581.08 130.42 583.00 130.10 C584.92 129.78 587.50 128.13 590.70 126.20 C593.90 124.27 599.00 120.10 602.20 118.50 C605.40 116.90 607.33 117.40 609.90 116.60 C612.47 115.80 615.03 115.45 617.60 113.70 C620.17 111.95 622.75 108.82 625.30 106.10 C627.85 103.38 630.67 100.28 632.90 97.40 C635.13 94.52 637.73 90.23 638.70 88.80" fill="none" stroke="#ff0080" stroke-width="2.0" stroke-linejoin="round" stroke-linecap="round"/><path d="M384.10 5.80 V215.80 H667.50" fill="none" stroke="#000" stroke-width="2.0"/><text transform="translate(376.90 204.60) scale(1.100 1)" font-size="11.60" font-weight="bold" text-anchor="end" stroke="#000" stroke-width="0.35">20</text><text transform="translate(376.90 178.54) scale(1.100 1)" font-size="11.60" font-weight="bold" text-anchor="end" stroke="#000" stroke-width="0.35">30</text><text transform="translate(376.90 152.48) scale(1.100 1)" font-size="11.60" font-weight="bold" text-anchor="end" stroke="#000" stroke-width="0.35">40</text><text transform="translate(376.90 126.42) scale(1.100 1)" font-size="11.60" font-weight="bold" text-anchor="end" stroke="#000" stroke-width="0.35">50</text><text transform="translate(376.90 100.36) scale(1.100 1)" font-size="11.60" font-weight="bold" text-anchor="end" stroke="#000" stroke-width="0.35">60</text><text transform="translate(376.90 74.30) scale(1.100 1)" font-size="11.60" font-weight="bold" text-anchor="end" stroke="#000" stroke-width="0.35">70</text><text transform="translate(376.90 48.24) scale(1.100 1)" font-size="11.60" font-weight="bold" text-anchor="end" stroke="#000" stroke-width="0.35">80</text><text transform="translate(376.90 22.18) scale(1.100 1)" font-size="11.60" font-weight="bold" text-anchor="end" stroke="#000" stroke-width="0.35">90</text><text transform="translate(412.10 232.60) scale(1.100 1)" font-size="11.60" font-weight="bold" text-anchor="middle" stroke="#000" stroke-width="0.35">-1.0</text><text transform="translate(469.10 232.60) scale(1.100 1)" font-size="11.60" font-weight="bold" text-anchor="middle" stroke="#000" stroke-width="0.35">-0.5</text><text transform="translate(526.10 232.60) scale(1.100 1)" font-size="11.60" font-weight="bold" text-anchor="middle" stroke="#000" stroke-width="0.35">0.0</text><text transform="translate(583.10 232.60) scale(1.100 1)" font-size="11.60" font-weight="bold" text-anchor="middle" stroke="#000" stroke-width="0.35">0.5</text><text transform="translate(640.10 232.60) scale(1.100 1)" font-size="11.60" font-weight="bold" text-anchor="middle" stroke="#000" stroke-width="0.35">1.0</text><path d="M379.60 201.90H384.10M379.60 175.84H384.10M379.60 149.78H384.10M379.60 123.72H384.10M379.60 97.66H384.10M379.60 71.60H384.10M379.60 45.54H384.10M379.60 19.48H384.10M382.30 214.93H384.10M382.30 188.87H384.10M382.30 162.81H384.10M382.30 136.75H384.10M382.30 110.69H384.10M382.30 84.63H384.10M382.30 58.57H384.10M382.30 32.51H384.10M382.30 6.45H384.10M411.60 215.80V220.30M468.60 215.80V220.30M525.60 215.80V220.30M582.60 215.80V220.30M639.60 215.80V220.30M383.10 215.80V218.80M440.10 215.80V218.80M497.10 215.80V218.80M554.10 215.80V218.80M611.10 215.80V218.80M668.10 215.80V218.80" fill="none" stroke="#000" stroke-width="1.6"/><text transform="translate(523.60 247.10) scale(1.060 1)" font-size="11.30" font-weight="bold" text-anchor="middle" stroke="#000" stroke-width="0.3">E/V</text><text transform="translate(352.30 116.00) rotate(-90)" font-size="12.5" text-anchor="middle"><tspan font-weight="bold" stroke="#000" stroke-width="0.2">I/</tspan><tspan font-weight="normal" stroke="#000" stroke-width="0.45">µA</tspan></text><text x="440.00" y="27.80" font-size="17" stroke="#000" stroke-width="0.35">B</text><path d="M621.20 105.00H644.40" stroke="#000000" stroke-width="1.6"/><text y="108.30" font-size="9.2" font-weight="bold" stroke="#000" stroke-width="0.2"><tspan x="646.2">0</tspan><tspan x="652.4">µM</tspan><tspan x="667.4">CIP</tspan></text><path d="M621.20 117.94H644.40" stroke="#ff0000" stroke-width="1.6"/><text y="121.24" font-size="9.2" font-weight="bold" stroke="#000" stroke-width="0.2"><tspan x="646.2">1</tspan><tspan x="652.4">µM</tspan><tspan x="667.4">CIP</tspan></text><path d="M621.20 130.88H644.40" stroke="#0000ff" stroke-width="1.6"/><text y="134.18" font-size="9.2" font-weight="bold" stroke="#000" stroke-width="0.2"><tspan x="646.2">2</tspan><tspan x="652.4">µM</tspan><tspan x="667.4">CIP</tspan></text><path d="M621.20 143.82H644.40" stroke="#008080" stroke-width="1.6"/><text y="147.12" font-size="9.2" font-weight="bold" stroke="#000" stroke-width="0.2"><tspan x="646.2">3</tspan><tspan x="652.4">µM</tspan><tspan x="667.4">CIP</tspan></text><path d="M621.20 156.76H644.40" stroke="#ff00ff" stroke-width="1.6"/><text y="160.06" font-size="9.2" font-weight="bold" stroke="#000" stroke-width="0.2"><tspan x="646.2">4</tspan><tspan x="652.4">µM</tspan><tspan x="667.4">CIP</tspan></text><path d="M621.20 169.70H644.40" stroke="#808000" stroke-width="1.6"/><text y="173.00" font-size="9.2" font-weight="bold" stroke="#000" stroke-width="0.2"><tspan x="646.2">5</tspan><tspan x="652.4">µM</tspan><tspan x="667.4">CIP</tspan></text><path d="M621.20 182.64H644.40" stroke="#000080" stroke-width="1.6"/><text y="185.94" font-size="9.2" font-weight="bold" stroke="#000" stroke-width="0.2"><tspan x="646.2">6</tspan><tspan x="652.4">µM</tspan><tspan x="667.4">CIP</tspan></text><path d="M621.20 195.58H644.40" stroke="#800000" stroke-width="1.6"/><text y="198.88" font-size="9.2" font-weight="bold" stroke="#000" stroke-width="0.2"><tspan x="646.2">7</tspan><tspan x="652.4">µM</tspan><tspan x="667.4">CIP</tspan></text><path d="M621.20 208.52H644.40" stroke="#ff0080" stroke-width="1.6"/><text y="211.82" font-size="9.2" font-weight="bold" stroke="#000" stroke-width="0.2"><tspan x="646.2">8</tspan><tspan x="652.4">µM</tspan><tspan x="667.4">CIP</tspan></text></g>
<g><path d="M73.00 292.00 C73.08 294.17 73.17 299.50 73.50 305.00 C73.83 310.50 74.13 317.17 75.00 325.00 C75.87 332.83 77.53 344.33 78.70 352.00 C79.87 359.67 80.95 365.50 82.00 371.00 C83.05 376.50 83.75 380.50 85.00 385.00 C86.25 389.50 88.17 394.83 89.50 398.00 C90.83 401.17 92.05 402.75 93.00 404.00 C93.95 405.25 94.45 405.50 95.20 405.50 C95.95 405.50 96.53 405.08 97.50 404.00 C98.47 402.92 99.25 401.67 101.00 399.00 C102.75 396.33 105.17 392.50 108.00 388.00 C110.83 383.50 114.50 378.00 118.00 372.00 C121.50 366.00 125.72 358.50 129.00 352.00 C132.28 345.50 134.97 339.43 137.70 333.00 C140.43 326.57 142.85 318.72 145.40 313.40 C147.95 308.08 150.45 304.55 153.00 301.10 C155.55 297.65 158.70 294.47 160.70 292.70 C162.70 290.93 163.58 290.88 165.00 290.50 C166.42 290.12 167.95 290.23 169.20 290.40 C170.45 290.57 171.35 290.73 172.50 291.50 C173.65 292.27 174.73 292.63 176.10 295.00 C177.47 297.37 179.17 301.62 180.70 305.70 C182.23 309.78 183.77 314.88 185.30 319.50 C186.83 324.12 188.37 328.78 189.90 333.40 C191.43 338.02 193.22 343.62 194.50 347.20 C195.78 350.78 195.87 351.12 197.60 354.90 C199.33 358.68 202.43 365.73 204.90 369.90 C207.37 374.07 209.48 376.98 212.40 379.90 C215.32 382.82 219.48 385.95 222.40 387.40 C225.32 388.85 227.40 387.77 229.90 388.60 C232.40 389.43 234.70 391.27 237.40 392.40 C240.10 393.53 243.20 395.40 246.10 395.40 C249.00 395.40 252.10 394.15 254.80 392.40 C257.50 390.65 259.77 387.82 262.30 384.90 C264.83 381.98 267.43 378.48 270.00 374.90 C272.57 371.32 275.13 367.63 277.70 363.40 C280.27 359.17 282.85 354.88 285.40 349.50 C287.95 344.12 290.70 336.47 293.00 331.10 C295.30 325.73 298.17 319.60 299.20 317.30" fill="none" stroke="#000000" stroke-width="2.0" stroke-linejoin="round" stroke-linecap="round"/><path d="M73.00 296.00 C73.08 298.67 73.17 306.33 73.50 312.00 C73.83 317.67 74.13 323.12 75.00 330.00 C75.87 336.88 77.53 347.13 78.70 353.30 C79.87 359.47 80.95 362.78 82.00 367.00 C83.05 371.22 83.80 373.85 85.00 378.60 C86.20 383.35 87.87 391.35 89.20 395.50 C90.53 399.65 92.00 401.77 93.00 403.50 C94.00 405.23 94.45 405.98 95.20 405.90 C95.95 405.82 96.53 404.65 97.50 403.00 C98.47 401.35 99.25 399.67 101.00 396.00 C102.75 392.33 105.17 386.67 108.00 381.00 C110.83 375.33 114.50 367.67 118.00 362.00 C121.50 356.33 125.33 352.33 129.00 347.00 C132.67 341.67 136.50 335.67 140.00 330.00 C143.50 324.33 147.00 317.67 150.00 313.00 C153.00 308.33 155.83 304.58 158.00 302.00 C160.17 299.42 161.13 298.55 163.00 297.50 C164.87 296.45 167.28 295.62 169.20 295.70 C171.12 295.78 172.58 295.05 174.50 298.00 C176.42 300.95 178.90 308.27 180.70 313.40 C182.50 318.53 183.77 323.42 185.30 328.80 C186.83 334.18 188.70 340.92 189.90 345.70 C191.10 350.48 190.82 352.22 192.50 357.50 C194.18 362.78 197.52 372.00 200.00 377.40 C202.48 382.80 204.92 386.17 207.40 389.90 C209.88 393.63 212.40 397.48 214.90 399.80 C217.40 402.12 220.47 403.27 222.40 403.80 C224.33 404.33 225.23 403.25 226.50 403.00 C227.77 402.75 228.58 401.92 230.00 402.30 C231.42 402.68 233.35 404.05 235.00 405.30 C236.65 406.55 238.40 408.60 239.90 409.80 C241.40 411.00 242.55 411.87 244.00 412.50 C245.45 413.13 247.10 413.52 248.60 413.60 C250.10 413.68 251.55 413.42 253.00 413.00 C254.45 412.58 255.33 412.67 257.30 411.10 C259.27 409.53 262.43 406.82 264.80 403.60 C267.17 400.38 268.58 396.45 271.50 391.80 C274.42 387.15 279.73 379.93 282.30 375.70 C284.87 371.47 285.57 369.43 286.90 366.40 C288.23 363.37 289.28 360.57 290.30 357.50 C291.32 354.43 292.10 350.78 293.00 348.00 C293.90 345.22 294.67 343.23 295.70 340.80 C296.73 338.37 298.62 334.63 299.20 333.40" fill="none" stroke="#ff0000" stroke-width="2.0" stroke-linejoin="round" stroke-linecap="round"/><path d="M73.00 309.00 C73.08 311.17 73.17 316.83 73.50 322.00 C73.83 327.17 74.13 333.33 75.00 340.00 C75.87 346.67 77.53 355.83 78.70 362.00 C79.87 368.17 80.95 372.67 82.00 377.00 C83.05 381.33 83.75 384.33 85.00 388.00 C86.25 391.67 88.17 396.00 89.50 399.00 C90.83 402.00 92.05 404.37 93.00 406.00 C93.95 407.63 94.45 408.80 95.20 408.80 C95.95 408.80 96.53 407.80 97.50 406.00 C98.47 404.20 99.25 402.17 101.00 398.00 C102.75 393.83 105.17 386.83 108.00 381.00 C110.83 375.17 114.50 368.50 118.00 363.00 C121.50 357.50 125.33 353.33 129.00 348.00 C132.67 342.67 136.50 336.33 140.00 331.00 C143.50 325.67 147.00 320.33 150.00 316.00 C153.00 311.67 155.83 307.50 158.00 305.00 C160.17 302.50 161.40 301.90 163.00 301.00 C164.60 300.10 166.10 299.52 167.60 299.60 C169.10 299.68 170.60 300.27 172.00 301.50 C173.40 302.73 174.50 303.92 176.00 307.00 C177.50 310.08 179.33 314.50 181.00 320.00 C182.67 325.50 184.50 332.52 186.00 340.00 C187.50 347.48 188.08 357.42 190.00 364.90 C191.92 372.38 195.02 379.07 197.50 384.90 C199.98 390.73 202.42 395.30 204.90 399.90 C207.38 404.50 209.90 409.82 212.40 412.50 C214.90 415.18 217.97 415.42 219.90 416.00 C221.83 416.58 222.65 416.25 224.00 416.00 C225.35 415.75 226.82 415.00 228.00 414.50 C229.18 414.00 230.18 413.00 231.10 413.00 C232.02 413.00 232.45 413.42 233.50 414.50 C234.55 415.58 235.52 417.70 237.40 419.50 C239.28 421.30 242.32 424.08 244.80 425.30 C247.28 426.52 250.27 426.93 252.30 426.80 C254.33 426.67 255.33 425.63 257.00 424.50 C258.67 423.37 260.33 422.50 262.30 420.00 C264.27 417.50 266.85 412.92 268.80 409.50 C270.75 406.08 271.98 403.42 274.00 399.50 C276.02 395.58 278.75 389.92 280.90 386.00 C283.05 382.08 284.88 379.83 286.90 376.00 C288.92 372.17 290.95 368.30 293.00 363.00 C295.05 357.70 298.17 347.33 299.20 344.20" fill="none" stroke="#0000ff" stroke-width="2.0" stroke-linejoin="round" stroke-linecap="round"/><path d="M73.00 315.00 C73.08 317.50 73.17 324.17 73.50 330.00 C73.83 335.83 74.13 343.00 75.00 350.00 C75.87 357.00 77.53 366.00 78.70 372.00 C79.87 378.00 80.95 382.00 82.00 386.00 C83.05 390.00 83.75 392.67 85.00 396.00 C86.25 399.33 88.17 403.42 89.50 406.00 C90.83 408.58 92.05 410.23 93.00 411.50 C93.95 412.77 94.45 413.68 95.20 413.60 C95.95 413.52 96.53 412.77 97.50 411.00 C98.47 409.23 99.25 407.17 101.00 403.00 C102.75 398.83 105.17 391.83 108.00 386.00 C110.83 380.17 114.50 373.67 118.00 368.00 C121.50 362.33 125.33 357.17 129.00 352.00 C132.67 346.83 136.50 342.00 140.00 337.00 C143.50 332.00 147.00 326.33 150.00 322.00 C153.00 317.67 155.83 313.75 158.00 311.00 C160.17 308.25 161.42 306.90 163.00 305.50 C164.58 304.10 166.00 302.68 167.50 302.60 C169.00 302.52 170.58 303.60 172.00 305.00 C173.42 306.40 174.50 307.83 176.00 311.00 C177.50 314.17 179.33 318.67 181.00 324.00 C182.67 329.33 184.50 336.33 186.00 343.00 C187.50 349.67 188.50 356.67 190.00 364.00 C191.50 371.33 193.33 380.83 195.00 387.00 C196.67 393.17 198.33 397.17 200.00 401.00 C201.67 404.83 203.33 407.42 205.00 410.00 C206.67 412.58 208.50 414.58 210.00 416.50 C211.50 418.42 212.67 420.25 214.00 421.50 C215.33 422.75 216.67 423.67 218.00 424.00 C219.33 424.33 220.67 424.33 222.00 423.50 C223.33 422.67 224.83 420.67 226.00 419.00 C227.17 417.33 228.15 415.00 229.00 413.50 C229.85 412.00 230.35 410.08 231.10 410.00 C231.85 409.92 232.52 411.17 233.50 413.00 C234.48 414.83 235.75 418.50 237.00 421.00 C238.25 423.50 239.67 426.08 241.00 428.00 C242.33 429.92 243.67 431.37 245.00 432.50 C246.33 433.63 247.67 434.38 249.00 434.80 C250.33 435.22 251.67 435.38 253.00 435.00 C254.33 434.62 255.50 433.62 257.00 432.50 C258.50 431.38 260.17 430.22 262.00 428.30 C263.83 426.38 265.83 424.55 268.00 421.00 C270.17 417.45 272.67 412.08 275.00 407.00 C277.33 401.92 279.83 395.67 282.00 390.50 C284.17 385.33 286.00 380.42 288.00 376.00 C290.00 371.58 292.13 368.00 294.00 364.00 C295.87 360.00 298.33 354.00 299.20 352.00" fill="none" stroke="#008080" stroke-width="2.0" stroke-linejoin="round" stroke-linecap="round"/><path d="M73.00 325.26 C73.08 327.67 73.17 334.20 73.50 339.72 C73.83 345.24 74.13 351.64 75.00 358.37 C75.87 365.10 77.53 374.06 78.70 380.10 C79.87 386.15 80.95 390.46 82.00 394.64 C83.05 398.82 83.75 401.62 85.00 405.18 C86.25 408.74 88.17 413.18 89.50 415.99 C90.83 418.80 92.05 420.66 93.00 422.03 C93.95 423.40 94.45 424.29 95.20 424.21 C95.95 424.13 96.53 423.40 97.50 421.53 C98.47 419.66 99.25 417.47 101.00 412.99 C102.75 408.51 105.17 401.06 108.00 394.64 C110.83 388.22 114.50 380.69 118.00 374.48 C121.50 368.27 125.33 362.88 129.00 357.40 C132.67 351.92 136.50 346.68 140.00 341.59 C143.50 336.50 147.00 331.04 150.00 326.86 C153.00 322.68 155.83 319.08 158.00 316.54 C160.17 313.99 161.42 312.82 163.00 311.57 C164.58 310.33 166.00 309.05 167.50 309.05 C169.00 309.06 170.58 310.15 172.00 311.62 C173.42 313.08 174.50 314.74 176.00 317.86 C177.50 320.98 179.33 325.30 181.00 330.34 C182.67 335.39 184.50 341.80 186.00 348.13 C187.50 354.46 188.50 361.04 190.00 368.32 C191.50 375.60 193.33 385.41 195.00 391.81 C196.67 398.20 198.33 402.47 200.00 406.67 C201.67 410.87 203.33 414.10 205.00 417.02 C206.67 419.94 208.50 422.18 210.00 424.20 C211.50 426.21 212.67 428.02 214.00 429.11 C215.33 430.21 216.67 430.90 218.00 430.75 C219.33 430.60 220.67 429.81 222.00 428.22 C223.33 426.64 224.83 423.63 226.00 421.24 C227.17 418.85 228.15 415.82 229.00 413.91 C229.85 411.99 230.35 409.86 231.10 409.73 C231.85 409.60 232.52 410.94 233.50 413.13 C234.48 415.33 235.75 419.74 237.00 422.89 C238.25 426.04 239.67 429.44 241.00 432.05 C242.33 434.66 243.67 436.88 245.00 438.57 C246.33 440.27 247.67 441.46 249.00 442.20 C250.33 442.94 251.67 443.22 253.00 443.02 C254.33 442.82 255.50 442.03 257.00 441.00 C258.50 439.98 260.17 439.14 262.00 436.86 C263.83 434.58 265.83 431.71 268.00 427.35 C270.17 422.98 272.67 416.27 275.00 410.65 C277.33 405.02 279.83 398.75 282.00 393.61 C284.17 388.46 286.00 384.08 288.00 379.78 C290.00 375.48 292.13 371.96 294.00 367.78 C295.87 363.60 298.33 356.88 299.20 354.70" fill="none" stroke="#ff00ff" stroke-width="2.0" stroke-linejoin="round" stroke-linecap="round"/><path d="M73.00 328.68 C73.08 331.06 73.17 337.55 73.50 342.96 C73.83 348.37 74.13 354.52 75.00 361.16 C75.87 367.80 77.53 376.74 78.70 382.80 C79.87 388.86 80.95 393.28 82.00 397.52 C83.05 401.76 83.75 404.61 85.00 408.24 C86.25 411.87 88.17 416.44 89.50 419.32 C90.83 422.20 92.05 424.14 93.00 425.54 C93.95 426.94 94.45 427.83 95.20 427.75 C95.95 427.66 96.53 426.94 97.50 425.04 C98.47 423.14 99.25 420.91 101.00 416.32 C102.75 411.73 105.17 404.13 108.00 397.52 C110.83 390.91 114.50 383.03 118.00 376.64 C121.50 370.25 125.33 364.79 129.00 359.20 C132.67 353.61 136.50 348.24 140.00 343.12 C143.50 338.00 147.00 332.60 150.00 328.48 C153.00 324.36 155.83 320.86 158.00 318.38 C160.17 315.90 161.42 314.80 163.00 313.60 C164.58 312.40 166.00 311.17 167.50 311.20 C169.00 311.24 170.58 312.33 172.00 313.82 C173.42 315.31 174.50 317.04 176.00 320.14 C177.50 323.25 179.33 327.51 181.00 332.46 C182.67 337.41 184.50 343.62 186.00 349.84 C187.50 356.06 188.50 362.50 190.00 369.76 C191.50 377.02 193.33 386.94 195.00 393.41 C196.67 399.87 198.33 404.23 200.00 408.56 C201.67 412.89 203.33 416.33 205.00 419.36 C206.67 422.39 208.50 424.71 210.00 426.76 C211.50 428.81 212.67 430.61 214.00 431.65 C215.33 432.69 216.67 433.31 218.00 433.00 C219.33 432.69 220.67 431.64 222.00 429.80 C223.33 427.96 224.83 424.61 226.00 421.99 C227.17 419.36 228.15 416.10 229.00 414.04 C229.85 411.98 230.35 409.78 231.10 409.64 C231.85 409.50 232.52 410.87 233.50 413.18 C234.48 415.49 235.75 420.15 237.00 423.52 C238.25 426.89 239.67 430.55 241.00 433.40 C242.33 436.25 243.67 438.72 245.00 440.60 C246.33 442.48 247.67 443.82 249.00 444.66 C250.33 445.51 251.67 445.83 253.00 445.69 C254.33 445.55 255.50 444.84 257.00 443.84 C258.50 442.84 260.17 442.11 262.00 439.71 C263.83 437.32 265.83 434.10 268.00 429.46 C270.17 424.82 272.67 417.66 275.00 411.86 C277.33 406.06 279.83 399.78 282.00 394.64 C284.17 389.50 286.00 385.31 288.00 381.04 C290.00 376.77 292.13 373.28 294.00 369.04 C295.87 364.80 298.33 357.84 299.20 355.60" fill="none" stroke="#808000" stroke-width="2.0" stroke-linejoin="round" stroke-linecap="round"/><path d="M73.00 333.24 C73.08 335.58 73.17 342.01 73.50 347.28 C73.83 352.55 74.13 358.36 75.00 364.88 C75.87 371.40 77.53 380.32 78.70 386.40 C79.87 392.48 80.95 397.04 82.00 401.36 C83.05 405.68 83.75 408.59 85.00 412.32 C86.25 416.05 88.17 420.78 89.50 423.76 C90.83 426.74 92.05 428.77 93.00 430.22 C93.95 431.67 94.45 432.55 95.20 432.46 C95.95 432.38 96.53 431.67 97.50 429.72 C98.47 427.77 99.25 425.49 101.00 420.76 C102.75 416.03 105.17 408.23 108.00 401.36 C110.83 394.49 114.50 386.15 118.00 379.52 C121.50 372.89 125.33 367.33 129.00 361.60 C132.67 355.87 136.50 350.32 140.00 345.16 C143.50 340.00 147.00 334.69 150.00 330.64 C153.00 326.59 155.83 323.23 158.00 320.84 C160.17 318.45 161.42 317.43 163.00 316.30 C164.58 315.17 166.00 314.00 167.50 314.07 C169.00 314.15 170.58 315.24 172.00 316.76 C173.42 318.28 174.50 320.11 176.00 323.19 C177.50 326.28 179.33 330.46 181.00 335.28 C182.67 340.10 184.50 346.05 186.00 352.12 C187.50 358.19 188.50 364.44 190.00 371.68 C191.50 378.92 193.33 388.98 195.00 395.54 C196.67 402.11 198.33 406.59 200.00 411.08 C201.67 415.57 203.33 419.30 205.00 422.48 C206.67 425.66 208.50 428.09 210.00 430.18 C211.50 432.27 212.67 434.07 214.00 435.04 C215.33 436.01 216.67 436.52 218.00 436.00 C219.33 435.48 220.67 434.07 222.00 431.90 C223.33 429.73 224.83 425.93 226.00 422.98 C227.17 420.04 228.15 416.46 229.00 414.22 C229.85 411.98 230.35 409.68 231.10 409.52 C231.85 409.36 232.52 410.77 233.50 413.24 C234.48 415.71 235.75 420.70 237.00 424.36 C238.25 428.02 239.67 432.04 241.00 435.20 C242.33 438.36 243.67 441.17 245.00 443.30 C246.33 445.43 247.67 446.96 249.00 447.95 C250.33 448.94 251.67 449.31 253.00 449.26 C254.33 449.20 255.50 448.58 257.00 447.62 C258.50 446.66 260.17 446.07 262.00 443.52 C263.83 440.96 265.83 437.29 268.00 432.28 C270.17 427.27 272.67 419.52 275.00 413.48 C277.33 407.44 279.83 401.15 282.00 396.02 C284.17 390.89 286.00 386.94 288.00 382.72 C290.00 378.50 292.13 375.04 294.00 370.72 C295.87 366.40 298.33 359.12 299.20 356.80" fill="none" stroke="#800000" stroke-width="2.0" stroke-linejoin="round" stroke-linecap="round"/><path d="M73.00 335.14 C73.08 337.46 73.17 343.87 73.50 349.08 C73.83 354.30 74.13 359.96 75.00 366.43 C75.87 372.90 77.53 381.81 78.70 387.90 C79.87 393.99 80.95 398.61 82.00 402.96 C83.05 407.31 83.75 410.25 85.00 414.02 C86.25 417.79 88.17 422.59 89.50 425.61 C90.83 428.63 92.05 430.70 93.00 432.17 C93.95 433.64 94.45 434.51 95.20 434.43 C95.95 434.35 96.53 433.64 97.50 431.67 C98.47 429.70 99.25 427.39 101.00 422.61 C102.75 417.83 105.17 409.94 108.00 402.96 C110.83 395.98 114.50 387.45 118.00 380.72 C121.50 373.99 125.33 368.39 129.00 362.60 C132.67 356.81 136.50 351.19 140.00 346.01 C143.50 340.83 147.00 335.56 150.00 331.54 C153.00 327.52 155.83 324.22 158.00 321.87 C160.17 319.51 161.42 318.52 163.00 317.42 C164.58 316.33 166.00 315.17 167.50 315.27 C169.00 315.36 170.58 316.45 172.00 317.99 C173.42 319.52 174.50 321.38 176.00 324.46 C177.50 327.54 179.33 331.69 181.00 336.46 C182.67 341.22 184.50 347.07 186.00 353.07 C187.50 359.07 188.50 365.25 190.00 372.48 C191.50 379.71 193.33 389.83 195.00 396.43 C196.67 403.04 198.33 407.57 200.00 412.13 C201.67 416.69 203.33 420.53 205.00 423.78 C206.67 427.03 208.50 429.49 210.00 431.61 C211.50 433.72 212.67 435.51 214.00 436.45 C215.33 437.39 216.67 437.86 218.00 437.25 C219.33 436.64 220.67 435.08 222.00 432.77 C223.33 430.47 224.83 426.48 226.00 423.40 C227.17 420.32 228.15 416.62 229.00 414.30 C229.85 411.97 230.35 409.64 231.10 409.47 C231.85 409.30 232.52 410.73 233.50 413.26 C234.48 415.80 235.75 420.93 237.00 424.71 C238.25 428.49 239.67 432.66 241.00 435.95 C242.33 439.24 243.67 442.20 245.00 444.42 C246.33 446.65 247.67 448.27 249.00 449.32 C250.33 450.37 251.67 450.76 253.00 450.74 C254.33 450.72 255.50 450.13 257.00 449.19 C258.50 448.25 260.17 447.72 262.00 445.10 C263.83 442.48 265.83 438.61 268.00 433.45 C270.17 428.30 272.67 420.30 275.00 414.15 C277.33 408.01 279.83 401.72 282.00 396.60 C284.17 391.47 286.00 387.62 288.00 383.42 C290.00 379.22 292.13 375.77 294.00 371.42 C295.87 367.07 298.33 359.65 299.20 357.30" fill="none" stroke="#000080" stroke-width="2.0" stroke-linejoin="round" stroke-linecap="round"/><path d="M73.00 338.56 C73.08 340.85 73.17 347.21 73.50 352.32 C73.83 357.43 74.13 362.84 75.00 369.22 C75.87 375.60 77.53 384.50 78.70 390.60 C79.87 396.70 80.95 401.43 82.00 405.84 C83.05 410.25 83.75 413.23 85.00 417.08 C86.25 420.93 88.17 425.84 89.50 428.94 C90.83 432.04 92.05 434.18 93.00 435.68 C93.95 437.18 94.45 438.05 95.20 437.97 C95.95 437.88 96.53 437.18 97.50 435.18 C98.47 433.18 99.25 430.83 101.00 425.94 C102.75 421.05 105.17 413.02 108.00 405.84 C110.83 398.66 114.50 389.79 118.00 382.88 C121.50 375.97 125.33 370.29 129.00 364.40 C132.67 358.51 136.50 352.75 140.00 347.54 C143.50 342.33 147.00 337.13 150.00 333.16 C153.00 329.19 155.83 326.00 158.00 323.71 C160.17 321.43 161.42 320.50 163.00 319.45 C164.58 318.40 166.00 317.29 167.50 317.42 C169.00 317.54 170.58 318.63 172.00 320.19 C173.42 321.75 174.50 323.68 176.00 326.75 C177.50 329.81 179.33 333.90 181.00 338.57 C182.67 343.24 184.50 348.89 186.00 354.78 C187.50 360.67 188.50 366.71 190.00 373.92 C191.50 381.13 193.33 391.35 195.00 398.04 C196.67 404.72 198.33 409.34 200.00 414.02 C201.67 418.70 203.33 422.76 205.00 426.12 C206.67 429.48 208.50 432.03 210.00 434.17 C211.50 436.31 212.67 438.10 214.00 438.98 C215.33 439.87 216.67 440.27 218.00 439.50 C219.33 438.73 220.67 436.91 222.00 434.35 C223.33 431.79 224.83 427.47 226.00 424.15 C227.17 420.83 228.15 416.89 229.00 414.43 C229.85 411.97 230.35 409.57 231.10 409.38 C231.85 409.19 232.52 410.65 233.50 413.31 C234.48 415.97 235.75 421.34 237.00 425.34 C238.25 429.34 239.67 433.78 241.00 437.30 C242.33 440.82 243.67 444.04 245.00 446.45 C246.33 448.86 247.67 450.63 249.00 451.79 C250.33 452.95 251.67 453.37 253.00 453.41 C254.33 453.45 255.50 452.94 257.00 452.03 C258.50 451.12 260.17 450.70 262.00 447.95 C263.83 445.21 265.83 441.00 268.00 435.57 C270.17 430.14 272.67 421.69 275.00 415.37 C277.33 409.05 279.83 402.75 282.00 397.63 C284.17 392.51 286.00 388.84 288.00 384.68 C290.00 380.52 292.13 377.09 294.00 372.68 C295.87 368.27 298.33 360.61 299.20 358.20" fill="none" stroke="#ff0080" stroke-width="2.0" stroke-linejoin="round" stroke-linecap="round"/><path d="M73.00 342.36 C73.08 344.62 73.17 350.93 73.50 355.92 C73.83 360.91 74.13 366.04 75.00 372.32 C75.87 378.60 77.53 387.48 78.70 393.60 C79.87 399.72 80.95 404.56 82.00 409.04 C83.05 413.52 83.75 416.55 85.00 420.48 C86.25 424.41 88.17 429.46 89.50 432.64 C90.83 435.82 92.05 438.04 93.00 439.58 C93.95 441.12 94.45 441.98 95.20 441.90 C95.95 441.81 96.53 441.12 97.50 439.08 C98.47 437.04 99.25 434.65 101.00 429.64 C102.75 424.63 105.17 416.43 108.00 409.04 C110.83 401.65 114.50 392.39 118.00 385.28 C121.50 378.17 125.33 372.41 129.00 366.40 C132.67 360.39 136.50 354.48 140.00 349.24 C143.50 344.00 147.00 338.87 150.00 334.96 C153.00 331.05 155.83 327.97 158.00 325.76 C160.17 323.55 161.42 322.69 163.00 321.70 C164.58 320.71 166.00 319.65 167.50 319.81 C169.00 319.96 170.58 321.06 172.00 322.64 C173.42 324.22 174.50 326.24 176.00 329.29 C177.50 332.33 179.33 336.35 181.00 340.92 C182.67 345.49 184.50 350.91 186.00 356.68 C187.50 362.45 188.50 368.33 190.00 375.52 C191.50 382.71 193.33 393.05 195.00 399.82 C196.67 406.58 198.33 411.30 200.00 416.12 C201.67 420.94 203.33 425.24 205.00 428.72 C206.67 432.20 208.50 434.84 210.00 437.02 C211.50 439.20 212.67 440.97 214.00 441.80 C215.33 442.63 216.67 442.95 218.00 442.00 C219.33 441.05 220.67 438.94 222.00 436.10 C223.33 433.26 224.83 429.16 226.00 424.98 C227.17 420.79 228.15 414.33 229.00 411.00 C229.85 407.67 230.35 405.17 231.10 405.00 C231.85 404.83 232.52 406.49 233.50 410.00 C234.48 413.51 235.75 421.24 237.00 426.04 C238.25 430.84 239.67 435.02 241.00 438.80 C242.33 442.58 243.67 446.08 245.00 448.70 C246.33 451.32 247.67 453.25 249.00 454.53 C250.33 455.81 251.67 456.28 253.00 456.38 C254.33 456.49 255.50 456.06 257.00 455.18 C258.50 454.30 260.17 454.00 262.00 451.12 C263.83 448.25 265.83 443.65 268.00 437.92 C270.17 432.19 272.67 423.24 275.00 416.72 C277.33 410.20 279.83 403.89 282.00 398.78 C284.17 393.67 286.00 390.20 288.00 386.08 C290.00 381.96 292.13 378.56 294.00 374.08 C295.87 369.60 298.33 361.68 299.20 359.20" fill="none" stroke="#008000" stroke-width="2.0" stroke-linejoin="round" stroke-linecap="round"/><path d="M73.00 345.40 C73.08 347.63 73.17 353.90 73.50 358.80 C73.83 363.70 74.13 368.60 75.00 374.80 C75.87 381.00 77.53 389.87 78.70 396.00 C79.87 402.13 80.95 407.07 82.00 411.60 C83.05 416.13 83.75 419.20 85.00 423.20 C86.25 427.20 88.17 432.35 89.50 435.60 C90.83 438.85 92.05 441.13 93.00 442.70 C93.95 444.27 94.45 445.12 95.20 445.04 C95.95 444.96 96.53 444.27 97.50 442.20 C98.47 440.13 99.25 437.70 101.00 432.60 C102.75 427.50 105.17 419.17 108.00 411.60 C110.83 404.03 114.50 394.47 118.00 387.20 C121.50 379.93 125.33 374.10 129.00 368.00 C132.67 361.90 136.50 355.87 140.00 350.60 C143.50 345.33 147.00 340.27 150.00 336.40 C153.00 332.53 155.83 329.55 158.00 327.40 C160.17 325.25 161.42 324.45 163.00 323.50 C164.58 322.55 166.00 321.54 167.50 321.72 C169.00 321.90 170.58 323.00 172.00 324.60 C173.42 326.20 174.50 328.29 176.00 331.32 C177.50 334.35 179.33 338.32 181.00 342.80 C182.67 347.28 184.50 352.53 186.00 358.20 C187.50 363.87 188.50 369.63 190.00 376.80 C191.50 383.97 193.33 394.41 195.00 401.24 C196.67 408.07 198.33 412.87 200.00 417.80 C201.67 422.73 203.33 427.22 205.00 430.80 C206.67 434.38 208.50 437.09 210.00 439.30 C211.50 441.51 212.67 443.28 214.00 444.06 C215.33 444.84 216.67 445.09 218.00 444.00 C219.33 442.91 220.67 440.56 222.00 437.50 C223.33 434.44 224.83 429.44 226.00 425.64 C227.17 421.84 228.15 417.44 229.00 414.70 C229.85 411.96 230.35 409.42 231.10 409.20 C231.85 408.98 232.52 410.50 233.50 413.40 C234.48 416.30 235.75 422.17 237.00 426.60 C238.25 431.03 239.67 436.02 241.00 440.00 C242.33 443.98 243.67 447.71 245.00 450.50 C246.33 453.29 247.67 455.34 249.00 456.72 C250.33 458.10 251.67 458.60 253.00 458.76 C254.33 458.92 255.50 458.55 257.00 457.70 C258.50 456.85 260.17 456.64 262.00 453.66 C263.83 450.68 265.83 445.78 268.00 439.80 C270.17 433.82 272.67 424.48 275.00 417.80 C277.33 411.12 279.83 404.80 282.00 399.70 C284.17 394.60 286.00 391.28 288.00 387.20 C290.00 383.12 292.13 379.73 294.00 375.20 C295.87 370.67 298.33 362.53 299.20 360.00" fill="none" stroke="#0000cc" stroke-width="2.0" stroke-linejoin="round" stroke-linecap="round"/><path d="M73.00 347.68 C73.08 349.89 73.17 356.13 73.50 360.96 C73.83 365.79 74.13 370.52 75.00 376.66 C75.87 382.80 77.53 391.66 78.70 397.80 C79.87 403.94 80.95 408.95 82.00 413.52 C83.05 418.09 83.75 421.19 85.00 425.24 C86.25 429.29 88.17 434.52 89.50 437.82 C90.83 441.12 92.05 443.44 93.00 445.04 C93.95 446.64 94.45 447.48 95.20 447.40 C95.95 447.31 96.53 446.64 97.50 444.54 C98.47 442.44 99.25 439.99 101.00 434.82 C102.75 429.65 105.17 421.22 108.00 413.52 C110.83 405.82 114.50 396.03 118.00 388.64 C121.50 381.25 125.33 375.37 129.00 369.20 C132.67 363.03 136.50 356.91 140.00 351.62 C143.50 346.33 147.00 341.31 150.00 337.48 C153.00 333.65 155.83 330.74 158.00 328.63 C160.17 326.52 161.42 325.76 163.00 324.85 C164.58 323.94 166.00 322.95 167.50 323.15 C169.00 323.36 170.58 324.45 172.00 326.07 C173.42 327.69 174.50 329.82 176.00 332.84 C177.50 335.87 179.33 339.79 181.00 344.21 C182.67 348.63 184.50 353.75 186.00 359.34 C187.50 364.93 188.50 370.60 190.00 377.76 C191.50 384.92 193.33 395.42 195.00 402.31 C196.67 409.19 198.33 414.05 200.00 419.06 C201.67 424.07 203.33 428.70 205.00 432.36 C206.67 436.02 208.50 438.78 210.00 441.01 C211.50 443.24 212.67 445.00 214.00 445.75 C215.33 446.50 216.67 446.70 218.00 445.50 C219.33 444.30 220.67 441.78 222.00 438.55 C223.33 435.32 224.83 430.10 226.00 426.14 C227.17 422.18 228.15 417.62 229.00 414.79 C229.85 411.96 230.35 409.37 231.10 409.14 C231.85 408.91 232.52 410.45 233.50 413.43 C234.48 416.41 235.75 422.44 237.00 427.02 C238.25 431.60 239.67 436.76 241.00 440.90 C242.33 445.04 243.67 448.94 245.00 451.85 C246.33 454.76 247.67 456.92 249.00 458.36 C250.33 459.81 251.67 460.34 253.00 460.54 C254.33 460.75 255.50 460.42 257.00 459.59 C258.50 458.76 260.17 458.63 262.00 455.56 C263.83 452.50 265.83 447.37 268.00 441.21 C270.17 435.05 272.67 425.41 275.00 418.61 C277.33 411.81 279.83 405.49 282.00 400.39 C284.17 395.29 286.00 392.10 288.00 388.04 C290.00 383.98 292.13 380.61 294.00 376.04 C295.87 371.47 298.33 363.17 299.20 360.60" fill="none" stroke="#ff8000" stroke-width="2.0" stroke-linejoin="round" stroke-linecap="round"/><path d="M73.00 353.00 C73.08 355.17 73.17 361.33 73.50 366.00 C73.83 370.67 74.13 375.00 75.00 381.00 C75.87 387.00 77.53 395.83 78.70 402.00 C79.87 408.17 80.95 413.33 82.00 418.00 C83.05 422.67 83.75 425.83 85.00 430.00 C86.25 434.17 88.17 439.58 89.50 443.00 C90.83 446.42 92.05 448.85 93.00 450.50 C93.95 452.15 94.45 452.98 95.20 452.90 C95.95 452.82 96.53 452.15 97.50 450.00 C98.47 447.85 99.25 445.33 101.00 440.00 C102.75 434.67 105.17 426.00 108.00 418.00 C110.83 410.00 114.50 399.67 118.00 392.00 C121.50 384.33 125.33 378.33 129.00 372.00 C132.67 365.67 136.50 359.33 140.00 354.00 C143.50 348.67 147.00 343.75 150.00 340.00 C153.00 336.25 155.83 333.50 158.00 331.50 C160.17 329.50 161.42 328.83 163.00 328.00 C164.58 327.17 166.00 326.25 167.50 326.50 C169.00 326.75 170.58 327.85 172.00 329.50 C173.42 331.15 174.50 333.40 176.00 336.40 C177.50 339.40 179.33 343.23 181.00 347.50 C182.67 351.77 184.50 356.58 186.00 362.00 C187.50 367.42 188.50 372.87 190.00 380.00 C191.50 387.13 193.33 397.80 195.00 404.80 C196.67 411.80 198.33 416.80 200.00 422.00 C201.67 427.20 203.33 432.17 205.00 436.00 C206.67 439.83 208.50 442.72 210.00 445.00 C211.50 447.28 212.67 449.03 214.00 449.70 C215.33 450.37 216.67 450.45 218.00 449.00 C219.33 447.55 220.67 444.62 222.00 441.00 C223.33 437.38 224.83 431.63 226.00 427.30 C227.17 422.97 228.15 418.05 229.00 415.00 C229.85 411.95 230.35 409.25 231.10 409.00 C231.85 408.75 232.52 410.33 233.50 413.50 C234.48 416.67 235.75 423.08 237.00 428.00 C238.25 432.92 239.67 438.50 241.00 443.00 C242.33 447.50 243.67 451.80 245.00 455.00 C246.33 458.20 247.67 460.58 249.00 462.20 C250.33 463.82 251.67 464.40 253.00 464.70 C254.33 465.00 255.50 464.78 257.00 464.00 C258.50 463.22 260.17 463.25 262.00 460.00 C263.83 456.75 265.83 451.08 268.00 444.50 C270.17 437.92 272.67 427.58 275.00 420.50 C277.33 413.42 279.83 407.08 282.00 402.00 C284.17 396.92 286.00 394.00 288.00 390.00 C290.00 386.00 292.13 382.67 294.00 378.00 C295.87 373.33 298.33 364.67 299.20 362.00" fill="none" stroke="#8000a0" stroke-width="2.0" stroke-linejoin="round" stroke-linecap="round"/><path d="M43.60 276.10 V484.20 H327.90" fill="none" stroke="#000" stroke-width="2.0"/><text transform="translate(36.60 487.80) scale(1.100 1)" font-size="11.60" font-weight="bold" text-anchor="end" stroke="#000" stroke-width="0.35">50</text><text transform="translate(36.60 456.80) scale(1.100 1)" font-size="11.60" font-weight="bold" text-anchor="end" stroke="#000" stroke-width="0.35">60</text><text transform="translate(36.60 425.80) scale(1.100 1)" font-size="11.60" font-weight="bold" text-anchor="end" stroke="#000" stroke-width="0.35">70</text><text transform="translate(36.60 394.80) scale(1.100 1)" font-size="11.60" font-weight="bold" text-anchor="end" stroke="#000" stroke-width="0.35">80</text><text transform="translate(36.60 363.80) scale(1.100 1)" font-size="11.60" font-weight="bold" text-anchor="end" stroke="#000" stroke-width="0.35">90</text><text transform="translate(36.60 332.80) scale(1.100 1)" font-size="11.60" font-weight="bold" text-anchor="end" stroke="#000" stroke-width="0.35">100</text><text transform="translate(36.60 301.80) scale(1.100 1)" font-size="11.60" font-weight="bold" text-anchor="end" stroke="#000" stroke-width="0.35">110</text><text transform="translate(72.40 501.00) scale(1.100 1)" font-size="11.60" font-weight="bold" text-anchor="middle" stroke="#000" stroke-width="0.35">-1.0</text><text transform="translate(129.20 501.00) scale(1.100 1)" font-size="11.60" font-weight="bold" text-anchor="middle" stroke="#000" stroke-width="0.35">-0.5</text><text transform="translate(186.00 501.00) scale(1.100 1)" font-size="11.60" font-weight="bold" text-anchor="middle" stroke="#000" stroke-width="0.35">0.0</text><text transform="translate(242.80 501.00) scale(1.100 1)" font-size="11.60" font-weight="bold" text-anchor="middle" stroke="#000" stroke-width="0.35">0.5</text><text transform="translate(299.60 501.00) scale(1.100 1)" font-size="11.60" font-weight="bold" text-anchor="middle" stroke="#000" stroke-width="0.35">1.0</text><path d="M39.10 484.40H43.60M39.10 453.40H43.60M39.10 422.40H43.60M39.10 391.40H43.60M39.10 360.40H43.60M39.10 329.40H43.60M39.10 298.40H43.60M41.80 468.90H43.60M41.80 437.90H43.60M41.80 406.90H43.60M41.80 375.90H43.60M41.80 344.90H43.60M41.80 313.90H43.60M41.80 282.90H43.60M71.90 484.20V488.70M128.70 484.20V488.70M185.50 484.20V488.70M242.30 484.20V488.70M299.10 484.20V488.70M43.50 484.20V487.20M100.30 484.20V487.20M157.10 484.20V487.20M213.90 484.20V487.20M270.70 484.20V487.20M327.50 484.20V487.20" fill="none" stroke="#000" stroke-width="1.6"/><text transform="translate(186.90 516.60) scale(1.060 1)" font-size="11.30" font-weight="bold" text-anchor="middle" stroke="#000" stroke-width="0.3">E/V</text><text transform="translate(11.60 386.90) rotate(-90)" font-size="12.5" text-anchor="middle"><tspan font-weight="bold" stroke="#000" stroke-width="0.2">I/</tspan><tspan font-weight="normal" stroke="#000" stroke-width="0.45">µA</tspan></text><text x="100.00" y="289.60" font-size="17" stroke="#000" stroke-width="0.35">C</text><path d="M278.10 284.60H301.10" stroke="#000000" stroke-width="1.6"/><text x="303.00" y="287.55" font-size="9.6" font-weight="bold" stroke="#000" stroke-width="0.2">0µM CIP</text><path d="M278.10 297.50H301.10" stroke="#ff0000" stroke-width="1.6"/><text x="303.00" y="300.44" font-size="9.6" font-weight="bold" stroke="#000" stroke-width="0.2">1µM CIP</text><path d="M278.10 310.39H301.10" stroke="#0000ff" stroke-width="1.6"/><text x="303.00" y="313.34" font-size="9.6" font-weight="bold" stroke="#000" stroke-width="0.2">2µM CIP</text><path d="M278.10 323.29H301.10" stroke="#008080" stroke-width="1.6"/><text x="303.00" y="326.24" font-size="9.6" font-weight="bold" stroke="#000" stroke-width="0.2">3µM CIP</text><path d="M278.10 336.18H301.10" stroke="#ff00ff" stroke-width="1.6"/><text x="303.00" y="339.13" font-size="9.6" font-weight="bold" stroke="#000" stroke-width="0.2">4µM CIP</text><path d="M278.10 349.08H301.10" stroke="#808000" stroke-width="1.6"/><text x="303.00" y="352.03" font-size="9.6" font-weight="bold" stroke="#000" stroke-width="0.2">5µM CIP</text><path d="M278.10 361.97H301.10" stroke="#000080" stroke-width="1.6"/><text x="303.00" y="364.92" font-size="9.6" font-weight="bold" stroke="#000" stroke-width="0.2">6µM CIP</text><path d="M278.10 374.87H301.10" stroke="#800000" stroke-width="1.6"/><text x="303.00" y="377.81" font-size="9.6" font-weight="bold" stroke="#000" stroke-width="0.2">7µM CIP</text><path d="M278.10 387.76H301.10" stroke="#ff0080" stroke-width="1.6"/><text x="303.00" y="390.71" font-size="9.6" font-weight="bold" stroke="#000" stroke-width="0.2">8µM CIP</text><path d="M278.10 400.66H301.10" stroke="#008000" stroke-width="1.6"/><text x="303.00" y="403.61" font-size="9.6" font-weight="bold" stroke="#000" stroke-width="0.2">9µM CIP</text><path d="M278.10 413.55H301.10" stroke="#0000cc" stroke-width="1.6"/><text y="416.50" font-size="9.6" font-weight="bold" stroke="#000" stroke-width="0.2"><tspan x="304.2">10</tspan><tspan x="314.4">µM</tspan><tspan x="330.4">CIP</tspan></text><path d="M278.10 426.45H301.10" stroke="#ff8000" stroke-width="1.6"/><text y="429.40" font-size="9.6" font-weight="bold" stroke="#000" stroke-width="0.2"><tspan x="304.2">11</tspan><tspan x="314.4">µM</tspan><tspan x="330.4">CIP</tspan></text><path d="M278.10 439.34H301.10" stroke="#8000a0" stroke-width="1.6"/><text y="442.29" font-size="9.6" font-weight="bold" stroke="#000" stroke-width="0.2"><tspan x="304.2">12</tspan><tspan x="314.4">µM</tspan><tspan x="330.4">CIP</tspan></text></g>
<g><path d="M422.80 298.60 C422.87 300.83 422.92 307.10 423.20 312.00 C423.48 316.90 423.87 322.83 424.50 328.00 C425.13 333.17 426.08 338.17 427.00 343.00 C427.92 347.83 428.92 352.33 430.00 357.00 C431.08 361.67 432.27 366.37 433.50 371.00 C434.73 375.63 435.92 380.43 437.40 384.80 C438.88 389.17 440.93 394.45 442.40 397.20 C443.87 399.95 444.73 401.33 446.20 401.30 C447.67 401.27 449.33 399.75 451.20 397.00 C453.07 394.25 455.12 389.33 457.40 384.80 C459.68 380.27 462.40 374.38 464.90 369.80 C467.40 365.22 469.50 362.28 472.40 357.30 C475.30 352.32 479.60 344.43 482.30 339.90 C485.00 335.37 486.10 334.03 488.60 330.10 C491.10 326.17 494.42 320.62 497.30 316.30 C500.18 311.98 503.32 307.67 505.90 304.20 C508.48 300.73 510.50 297.58 512.80 295.50 C515.10 293.42 517.53 291.70 519.70 291.70 C521.87 291.70 524.07 293.70 525.80 295.50 C527.53 297.30 528.82 299.62 530.10 302.50 C531.38 305.38 532.07 307.92 533.50 312.80 C534.93 317.68 536.97 325.18 538.70 331.80 C540.43 338.42 542.28 346.80 543.90 352.50 C545.52 358.20 546.58 360.88 548.40 366.00 C550.22 371.12 552.68 378.22 554.80 383.20 C556.92 388.18 558.63 392.38 561.10 395.90 C563.57 399.42 566.78 402.37 569.60 404.30 C572.42 406.23 575.18 406.27 578.00 407.50 C580.82 408.73 583.45 410.40 586.50 411.70 C589.55 413.00 592.90 415.47 596.30 415.30 C599.70 415.13 603.38 413.58 606.90 410.70 C610.42 407.82 614.58 402.23 617.40 398.00 C620.22 393.77 621.68 389.87 623.80 385.30 C625.92 380.73 628.17 374.82 630.10 370.60 C632.03 366.38 633.75 363.93 635.40 360.00 C637.05 356.07 638.50 351.62 640.00 347.00 C641.50 342.38 643.00 337.45 644.40 332.30 C645.80 327.15 647.73 318.80 648.40 316.10" fill="none" stroke="#000000" stroke-width="2.0" stroke-linejoin="round" stroke-linecap="round"/><path d="M423.00 307.30 C423.05 309.08 423.05 313.72 423.30 318.00 C423.55 322.28 423.88 328.00 424.50 333.00 C425.12 338.00 426.08 343.17 427.00 348.00 C427.92 352.83 428.92 357.33 430.00 362.00 C431.08 366.67 432.25 371.50 433.50 376.00 C434.75 380.50 436.02 384.83 437.50 389.00 C438.98 393.17 440.92 398.18 442.40 401.00 C443.88 403.82 444.88 405.82 446.40 405.90 C447.92 405.98 449.65 404.15 451.50 401.50 C453.35 398.85 455.25 394.25 457.50 390.00 C459.75 385.75 462.50 380.50 465.00 376.00 C467.50 371.50 469.58 368.00 472.50 363.00 C475.42 358.00 479.58 350.83 482.50 346.00 C485.42 341.17 487.42 338.17 490.00 334.00 C492.58 329.83 495.33 325.00 498.00 321.00 C500.67 317.00 503.50 312.83 506.00 310.00 C508.50 307.17 510.65 305.32 513.00 304.00 C515.35 302.68 517.93 302.10 520.10 302.10 C522.27 302.10 524.05 301.93 526.00 304.00 C527.95 306.07 529.97 309.87 531.80 314.50 C533.63 319.13 535.27 325.47 537.00 331.80 C538.73 338.13 540.62 346.17 542.20 352.50 C543.78 358.83 545.20 364.38 546.50 369.80 C547.80 375.22 548.62 380.30 550.00 385.00 C551.38 389.70 552.95 394.07 554.80 398.00 C556.65 401.93 558.63 405.43 561.10 408.60 C563.57 411.77 566.78 414.90 569.60 417.00 C572.42 419.10 575.18 419.78 578.00 421.20 C580.82 422.62 583.10 424.27 586.50 425.50 C589.90 426.73 594.30 428.97 598.40 428.60 C602.50 428.23 607.57 426.28 611.10 423.30 C614.63 420.32 616.78 415.62 619.60 410.70 C622.42 405.78 625.55 399.08 628.00 393.80 C630.45 388.52 632.18 384.63 634.30 379.00 C636.42 373.37 638.80 366.45 640.70 360.00 C642.60 353.55 644.42 345.37 645.70 340.30 C646.98 335.23 647.95 331.38 648.40 329.60" fill="none" stroke="#ff0000" stroke-width="2.0" stroke-linejoin="round" stroke-linecap="round"/><path d="M423.00 316.90 C423.05 318.58 423.05 323.15 423.30 327.00 C423.55 330.85 423.88 335.50 424.50 340.00 C425.12 344.50 426.08 349.50 427.00 354.00 C427.92 358.50 428.92 362.67 430.00 367.00 C431.08 371.33 432.25 375.67 433.50 380.00 C434.75 384.33 436.08 389.00 437.50 393.00 C438.92 397.00 440.50 400.88 442.00 404.00 C443.50 407.12 444.92 411.20 446.50 411.70 C448.08 412.20 449.67 409.78 451.50 407.00 C453.33 404.22 455.25 399.33 457.50 395.00 C459.75 390.67 462.50 385.50 465.00 381.00 C467.50 376.50 469.58 373.17 472.50 368.00 C475.42 362.83 479.58 355.00 482.50 350.00 C485.42 345.00 487.42 342.00 490.00 338.00 C492.58 334.00 494.67 330.33 498.00 326.00 C501.33 321.67 506.38 315.20 510.00 312.00 C513.62 308.80 517.03 307.30 519.70 306.80 C522.37 306.30 524.12 307.13 526.00 309.00 C527.88 310.87 529.33 313.17 531.00 318.00 C532.67 322.83 534.33 331.33 536.00 338.00 C537.67 344.67 539.42 351.83 541.00 358.00 C542.58 364.17 543.90 369.17 545.50 375.00 C547.10 380.83 549.02 388.17 550.60 393.00 C552.18 397.83 553.60 400.70 555.00 404.00 C556.40 407.30 556.93 409.75 559.00 412.80 C561.07 415.85 564.93 420.55 567.40 422.30 C569.87 424.05 571.50 423.30 573.80 423.30 C576.10 423.30 578.73 421.23 581.20 422.30 C583.67 423.37 585.62 427.95 588.60 429.70 C591.58 431.45 595.58 432.80 599.10 432.80 C602.62 432.80 606.18 431.98 609.70 429.70 C613.22 427.42 616.82 423.68 620.20 419.10 C623.58 414.52 627.10 408.72 630.00 402.20 C632.90 395.68 635.20 387.87 637.60 380.00 C640.00 372.13 642.60 361.83 644.40 355.00 C646.20 348.17 647.73 341.67 648.40 339.00" fill="none" stroke="#0000ff" stroke-width="2.0" stroke-linejoin="round" stroke-linecap="round"/><path d="M423.12 322.42 C423.17 324.02 423.19 328.31 423.42 332.04 C423.65 335.77 423.99 340.50 424.52 344.80 C425.06 349.10 425.88 353.62 426.64 357.84 C427.40 362.06 428.11 365.87 429.11 370.12 C430.12 374.37 431.42 378.99 432.66 383.36 C433.90 387.73 435.10 392.12 436.54 396.36 C437.98 400.60 439.62 405.28 441.28 408.80 C442.94 412.32 444.78 416.93 446.50 417.51 C448.22 418.09 449.77 415.03 451.62 412.28 C453.47 409.53 455.31 405.45 457.62 401.00 C459.93 396.55 462.84 390.58 465.48 385.56 C468.12 380.54 470.58 376.22 473.46 370.88 C476.34 365.54 479.90 358.40 482.74 353.50 C485.58 348.60 487.85 345.56 490.50 341.48 C493.16 337.40 495.42 333.45 498.65 329.05 C501.87 324.65 506.31 318.39 509.86 315.10 C513.40 311.80 517.27 309.86 519.92 309.27 C522.56 308.68 523.92 309.63 525.74 311.57 C527.55 313.51 529.10 316.12 530.78 320.90 C532.47 325.69 534.15 333.67 535.83 340.26 C537.51 346.84 539.30 354.35 540.86 360.42 C542.41 366.49 543.58 370.97 545.14 376.68 C546.70 382.39 548.57 389.57 550.22 394.68 C551.86 399.79 553.45 403.50 555.00 407.36 C556.55 411.22 557.44 414.66 559.50 417.86 C561.57 421.07 565.02 424.97 567.40 426.60 C569.78 428.22 571.42 427.92 573.80 427.62 C576.18 427.32 579.15 423.71 581.70 424.82 C584.25 425.93 586.06 431.91 589.10 434.26 C592.15 436.61 596.48 438.64 599.96 438.90 C603.45 439.15 606.52 438.56 610.04 435.77 C613.55 432.98 617.73 427.15 621.06 422.15 C624.40 417.14 627.31 411.97 630.02 405.75 C632.74 399.53 635.00 392.24 637.34 384.82 C639.67 377.41 642.18 367.89 644.02 361.26 C645.85 354.63 647.61 347.75 648.33 345.05" fill="none" stroke="#008080" stroke-width="2.0" stroke-linejoin="round" stroke-linecap="round"/><path d="M423.19 325.41 C423.24 326.97 423.26 331.10 423.49 334.77 C423.71 338.44 424.04 343.21 424.54 347.40 C425.03 351.59 425.76 355.85 426.44 359.92 C427.13 363.99 427.67 367.60 428.63 371.81 C429.59 376.02 430.97 380.79 432.21 385.18 C433.44 389.57 434.57 393.81 436.02 398.18 C437.47 402.55 439.14 407.65 440.89 411.40 C442.64 415.15 444.70 420.03 446.50 420.65 C448.30 421.28 449.82 417.87 451.69 415.14 C453.55 412.41 455.34 408.77 457.69 404.25 C460.03 399.73 463.02 393.33 465.74 388.03 C468.46 382.73 471.12 377.88 473.98 372.44 C476.84 367.00 480.07 360.25 482.87 355.40 C485.67 350.56 488.09 347.48 490.78 343.37 C493.47 339.25 495.83 335.13 499.00 330.70 C502.17 326.27 506.27 320.12 509.78 316.77 C513.28 313.43 517.40 311.25 520.03 310.61 C522.67 309.98 523.82 310.98 525.59 312.96 C527.37 314.94 528.98 317.72 530.67 322.48 C532.36 327.23 534.06 334.93 535.74 341.48 C537.43 348.02 539.24 355.72 540.78 361.74 C542.31 367.76 543.41 371.95 544.95 377.59 C546.48 383.23 548.33 390.33 550.01 395.59 C551.68 400.86 553.37 405.01 555.00 409.18 C556.63 413.35 557.71 417.32 559.78 420.61 C561.84 423.90 565.06 427.36 567.40 428.92 C569.74 430.48 571.37 430.42 573.80 429.96 C576.23 429.50 579.38 425.06 581.98 426.19 C584.57 427.31 586.30 434.06 589.38 436.73 C592.45 439.40 596.96 441.81 600.43 442.20 C603.91 442.59 606.70 442.13 610.22 439.06 C613.73 435.99 618.23 429.03 621.53 423.80 C624.84 418.57 627.43 413.74 630.04 407.68 C632.65 401.62 634.90 394.61 637.19 387.44 C639.49 380.27 641.96 371.18 643.81 364.66 C645.66 358.14 647.54 351.05 648.29 348.32" fill="none" stroke="#ff00ff" stroke-width="2.0" stroke-linejoin="round" stroke-linecap="round"/><path d="M423.23 327.25 C423.28 328.78 423.31 332.83 423.53 336.45 C423.75 340.08 424.08 344.88 424.55 349.00 C425.01 353.12 425.69 357.23 426.33 361.20 C426.96 365.18 427.40 368.67 428.34 372.85 C429.27 377.03 430.70 381.89 431.93 386.30 C433.15 390.71 434.25 394.85 435.70 399.30 C437.15 403.75 438.85 409.12 440.65 413.00 C442.45 416.88 444.65 421.94 446.50 422.59 C448.35 423.24 449.85 419.62 451.73 416.90 C453.60 414.18 455.36 410.81 457.73 406.25 C460.09 401.69 463.14 395.03 465.90 389.55 C468.66 384.07 471.46 378.90 474.30 373.40 C477.14 367.90 480.18 361.38 482.95 356.57 C485.72 351.76 488.23 348.67 490.95 344.52 C493.66 340.38 496.08 336.17 499.22 331.72 C502.35 327.26 506.25 321.19 509.73 317.81 C513.21 314.43 517.48 312.10 520.11 311.44 C522.73 310.77 523.76 311.81 525.50 313.82 C527.25 315.82 528.90 318.71 530.60 323.45 C532.29 328.18 534.00 335.71 535.68 342.23 C537.37 348.75 539.21 356.56 540.73 362.55 C542.25 368.53 543.30 372.55 544.83 378.15 C546.35 383.75 548.18 390.79 549.88 396.15 C551.58 401.51 553.32 405.94 555.00 410.30 C556.68 414.66 557.88 418.95 559.95 422.30 C562.01 425.64 565.09 428.84 567.40 430.36 C569.71 431.87 571.34 431.96 573.80 431.40 C576.26 430.85 579.52 425.88 582.14 427.03 C584.77 428.17 586.45 435.38 589.55 438.25 C592.64 441.12 597.26 443.76 600.72 444.23 C604.18 444.70 606.81 444.32 610.33 441.09 C613.85 437.85 618.53 430.19 621.82 424.82 C625.11 419.44 627.50 414.82 630.05 408.86 C632.59 402.90 634.83 396.06 637.11 389.05 C639.38 382.03 641.82 373.20 643.68 366.75 C645.54 360.29 647.50 353.07 648.27 350.34" fill="none" stroke="#808000" stroke-width="2.0" stroke-linejoin="round" stroke-linecap="round"/><path d="M423.26 328.86 C423.31 330.37 423.34 334.33 423.56 337.92 C423.78 341.51 424.11 346.33 424.55 350.40 C425.00 354.47 425.63 358.43 426.22 362.32 C426.81 366.21 427.17 369.60 428.08 373.76 C428.99 377.92 430.46 382.86 431.68 387.28 C432.90 391.70 433.96 395.76 435.42 400.28 C436.88 404.80 438.59 410.40 440.44 414.40 C442.29 418.40 444.61 423.61 446.50 424.28 C448.39 424.96 449.88 421.15 451.76 418.44 C453.64 415.73 455.38 412.59 457.76 408.00 C460.14 403.41 463.24 396.51 466.04 390.88 C468.84 385.25 471.75 379.79 474.58 374.24 C477.41 368.69 480.27 362.38 483.02 357.59 C485.77 352.81 488.36 349.70 491.09 345.54 C493.82 341.38 496.30 337.08 499.40 332.60 C502.50 328.13 506.23 322.12 509.69 318.71 C513.15 315.30 517.54 312.85 520.17 312.16 C522.79 311.47 523.70 312.54 525.43 314.56 C527.16 316.59 528.83 319.57 530.53 324.29 C532.23 329.01 533.94 336.39 535.64 342.89 C537.33 349.38 539.17 357.29 540.69 363.25 C542.20 369.21 543.21 373.08 544.72 378.64 C546.23 384.20 548.05 391.20 549.77 396.64 C551.48 402.08 553.28 406.76 555.00 411.28 C556.72 415.80 558.03 420.38 560.09 423.77 C562.16 427.16 565.12 430.13 567.40 431.61 C569.68 433.09 571.32 433.30 573.80 432.66 C576.28 432.02 579.64 426.61 582.29 427.76 C584.94 428.91 586.58 436.54 589.69 439.58 C592.81 442.62 597.52 445.46 600.97 446.01 C604.43 446.55 606.91 446.24 610.43 442.86 C613.94 439.47 618.80 431.20 622.07 425.70 C625.34 420.21 627.56 415.77 630.05 409.90 C632.54 404.02 634.78 397.34 637.03 390.45 C639.28 383.56 641.70 374.96 643.57 368.57 C645.44 362.18 647.46 354.85 648.24 352.10" fill="none" stroke="#000080" stroke-width="2.0" stroke-linejoin="round" stroke-linecap="round"/><path d="M423.31 331.16 C423.36 332.64 423.40 336.48 423.61 340.02 C423.82 343.56 424.15 348.42 424.56 352.40 C424.97 356.38 425.55 360.14 426.07 363.92 C426.59 367.70 426.83 370.93 427.71 375.06 C428.58 379.19 430.11 384.24 431.33 388.68 C432.55 393.12 433.55 397.06 435.02 401.68 C436.49 406.30 438.23 412.23 440.14 416.40 C442.05 420.57 444.56 426.00 446.50 426.70 C448.44 427.41 449.93 423.34 451.81 420.64 C453.69 417.94 455.40 415.14 457.81 410.50 C460.21 405.86 463.38 398.62 466.24 392.78 C469.10 386.94 472.17 381.06 474.98 375.44 C477.79 369.82 480.40 363.79 483.12 359.05 C485.84 354.31 488.54 351.19 491.30 346.99 C494.06 342.79 496.62 338.37 499.67 333.87 C502.73 329.38 506.20 323.45 509.63 320.00 C513.06 316.55 517.64 313.91 520.26 313.19 C522.87 312.46 523.62 313.58 525.32 315.63 C527.02 317.69 528.73 320.80 530.44 325.50 C532.15 330.20 533.87 337.37 535.57 343.83 C537.26 350.29 539.13 358.34 540.63 364.26 C542.13 370.18 543.07 373.83 544.57 379.34 C546.07 384.85 547.87 391.78 549.61 397.34 C551.35 402.90 553.22 407.92 555.00 412.68 C556.78 417.44 558.24 422.43 560.30 425.88 C562.37 429.33 565.15 431.97 567.40 433.40 C569.65 434.83 571.28 435.22 573.80 434.46 C576.32 433.70 579.82 427.64 582.50 428.81 C585.19 429.98 586.76 438.19 589.90 441.48 C593.04 444.77 597.89 447.90 601.33 448.55 C604.78 449.20 607.05 448.98 610.57 445.39 C614.08 441.79 619.18 432.64 622.43 426.97 C625.68 421.31 627.65 417.13 630.06 411.38 C632.48 405.62 634.69 399.16 636.92 392.46 C639.14 385.76 641.53 377.49 643.41 371.18 C645.29 364.88 647.41 357.38 648.21 354.62" fill="none" stroke="#800000" stroke-width="2.0" stroke-linejoin="round" stroke-linecap="round"/><path d="M423.40 335.53 C423.45 336.94 423.51 340.56 423.70 344.01 C423.90 347.45 424.23 352.38 424.58 356.20 C424.93 360.02 425.38 363.41 425.79 366.96 C426.19 370.52 426.19 373.47 427.00 377.53 C427.82 381.59 429.46 386.87 430.66 391.34 C431.87 395.81 432.78 399.53 434.26 404.34 C435.74 409.15 437.53 415.71 439.57 420.20 C441.61 424.69 444.44 430.53 446.50 431.30 C448.56 432.07 450.00 427.50 451.90 424.82 C453.81 422.14 455.45 419.99 457.90 415.25 C460.36 410.51 463.65 402.64 466.62 396.39 C469.59 390.13 472.96 383.48 475.74 377.72 C478.52 371.96 480.65 366.49 483.31 361.83 C485.97 357.16 488.89 354.00 491.70 349.75 C494.51 345.49 497.22 340.84 500.19 336.29 C503.16 331.74 506.14 325.97 509.51 322.45 C512.89 318.92 517.83 315.94 520.43 315.14 C523.03 314.35 523.47 315.56 525.11 317.67 C526.75 319.78 528.55 323.14 530.27 327.80 C531.99 332.46 533.73 339.22 535.43 345.61 C537.14 352.01 539.04 360.34 540.51 366.18 C541.99 372.02 542.82 375.26 544.28 380.67 C545.75 386.08 547.52 392.89 549.30 398.67 C551.09 404.45 553.10 410.14 555.00 415.34 C556.90 420.54 558.63 426.31 560.70 429.89 C562.77 433.47 565.22 435.47 567.40 436.80 C569.58 438.13 571.22 438.88 573.80 437.88 C576.38 436.88 580.15 429.60 582.90 430.81 C585.65 432.01 587.12 441.33 590.30 445.09 C593.49 448.85 598.59 452.52 602.02 453.37 C605.44 454.22 607.32 454.19 610.83 450.19 C614.35 446.20 619.91 435.39 623.12 429.39 C626.32 423.39 627.82 419.71 630.08 414.19 C632.35 408.67 634.54 402.62 636.71 396.28 C638.88 389.94 641.20 382.29 643.10 376.14 C645.01 370.00 647.31 362.20 648.16 359.41" fill="none" stroke="#ff0080" stroke-width="2.0" stroke-linejoin="round" stroke-linecap="round"/><path d="M423.50 339.90 C423.55 341.25 423.62 344.65 423.80 348.00 C423.98 351.35 424.32 356.33 424.60 360.00 C424.88 363.67 425.22 366.67 425.50 370.00 C425.78 373.33 425.55 376.00 426.30 380.00 C427.05 384.00 428.80 389.50 430.00 394.00 C431.20 398.50 432.00 402.00 433.50 407.00 C435.00 412.00 436.83 419.18 439.00 424.00 C441.17 428.82 444.33 435.07 446.50 435.90 C448.67 436.73 450.08 431.65 452.00 429.00 C453.92 426.35 455.50 424.83 458.00 420.00 C460.50 415.17 463.92 406.67 467.00 400.00 C470.08 393.33 473.75 385.90 476.50 380.00 C479.25 374.10 480.90 369.18 483.50 364.60 C486.10 360.02 489.23 356.82 492.10 352.50 C494.97 348.18 497.82 343.30 500.70 338.70 C503.58 334.10 506.08 328.50 509.40 324.90 C512.72 321.30 518.02 317.97 520.60 317.10 C523.18 316.23 523.32 317.53 524.90 319.70 C526.48 321.87 528.37 325.48 530.10 330.10 C531.83 334.72 533.58 341.07 535.30 347.40 C537.02 353.73 538.95 362.33 540.40 368.10 C541.85 373.87 542.57 376.68 544.00 382.00 C545.43 387.32 547.17 394.00 549.00 400.00 C550.83 406.00 552.98 412.35 555.00 418.00 C557.02 423.65 559.03 430.20 561.10 433.90 C563.17 437.60 565.28 438.97 567.40 440.20 C569.52 441.43 571.15 442.53 573.80 441.30 C576.45 440.07 580.48 431.57 583.30 432.80 C586.12 434.03 587.47 444.47 590.70 448.70 C593.93 452.93 599.30 457.15 602.70 458.20 C606.10 459.25 607.58 459.40 611.10 455.00 C614.62 450.60 620.63 438.13 623.80 431.80 C626.97 425.47 627.98 422.28 630.10 417.00 C632.22 411.72 634.38 406.08 636.50 400.10 C638.62 394.12 640.87 387.08 642.80 381.10 C644.73 375.12 647.22 367.02 648.10 364.20" fill="none" stroke="#008000" stroke-width="2.0" stroke-linejoin="round" stroke-linecap="round"/><path d="M393.40 275.40 V484.20 H677.70" fill="none" stroke="#000" stroke-width="2.0"/><text transform="translate(386.60 487.60) scale(1.100 1)" font-size="11.60" font-weight="bold" text-anchor="end" stroke="#000" stroke-width="0.35">30</text><text transform="translate(386.60 457.80) scale(1.100 1)" font-size="11.60" font-weight="bold" text-anchor="end" stroke="#000" stroke-width="0.35">40</text><text transform="translate(386.60 428.00) scale(1.100 1)" font-size="11.60" font-weight="bold" text-anchor="end" stroke="#000" stroke-width="0.35">50</text><text transform="translate(386.60 398.20) scale(1.100 1)" font-size="11.60" font-weight="bold" text-anchor="end" stroke="#000" stroke-width="0.35">60</text><text transform="translate(386.60 368.40) scale(1.100 1)" font-size="11.60" font-weight="bold" text-anchor="end" stroke="#000" stroke-width="0.35">70</text><text transform="translate(386.60 338.60) scale(1.100 1)" font-size="11.60" font-weight="bold" text-anchor="end" stroke="#000" stroke-width="0.35">80</text><text transform="translate(386.60 308.80) scale(1.100 1)" font-size="11.60" font-weight="bold" text-anchor="end" stroke="#000" stroke-width="0.35">90</text><text transform="translate(386.60 279.00) scale(1.100 1)" font-size="11.60" font-weight="bold" text-anchor="end" stroke="#000" stroke-width="0.35">100</text><text transform="translate(422.00 501.00) scale(1.100 1)" font-size="11.60" font-weight="bold" text-anchor="middle" stroke="#000" stroke-width="0.35">-1.0</text><text transform="translate(478.80 501.00) scale(1.100 1)" font-size="11.60" font-weight="bold" text-anchor="middle" stroke="#000" stroke-width="0.35">-0.5</text><text transform="translate(535.60 501.00) scale(1.100 1)" font-size="11.60" font-weight="bold" text-anchor="middle" stroke="#000" stroke-width="0.35">0.0</text><text transform="translate(592.40 501.00) scale(1.100 1)" font-size="11.60" font-weight="bold" text-anchor="middle" stroke="#000" stroke-width="0.35">0.5</text><text transform="translate(649.20 501.00) scale(1.100 1)" font-size="11.60" font-weight="bold" text-anchor="middle" stroke="#000" stroke-width="0.35">1.0</text><path d="M388.90 484.30H393.40M388.90 454.50H393.40M388.90 424.70H393.40M388.90 394.90H393.40M388.90 365.10H393.40M388.90 335.30H393.40M388.90 305.50H393.40M388.90 275.70H393.40M391.60 469.40H393.40M391.60 439.60H393.40M391.60 409.80H393.40M391.60 380.00H393.40M391.60 350.20H393.40M391.60 320.40H393.40M391.60 290.60H393.40M421.50 484.20V488.70M478.30 484.20V488.70M535.10 484.20V488.70M591.90 484.20V488.70M648.70 484.20V488.70M393.10 484.20V487.20M449.90 484.20V487.20M506.70 484.20V487.20M563.50 484.20V487.20M620.30 484.20V487.20M677.10 484.20V487.20" fill="none" stroke="#000" stroke-width="1.6"/><text transform="translate(534.20 518.70) scale(1.060 1)" font-size="11.30" font-weight="bold" text-anchor="middle" stroke="#000" stroke-width="0.3">E/V</text><text transform="translate(364.30 378.20) rotate(-90)" font-size="12.5" font-weight="normal" text-anchor="middle">I/µA</text><text x="444.00" y="290.00" font-size="17" stroke="#000" stroke-width="0.35">D</text><path d="M556.20 268.70H578.20" stroke="#000000" stroke-width="1.6"/><text x="581.20" y="271.65" font-size="9.6" font-weight="bold" stroke="#000" stroke-width="0.2">0µM CIP</text><path d="M556.20 281.40H578.20" stroke="#ff0000" stroke-width="1.6"/><text x="581.20" y="284.35" font-size="9.6" font-weight="bold" stroke="#000" stroke-width="0.2">1µM CIP</text><path d="M556.20 294.10H578.20" stroke="#0000ff" stroke-width="1.6"/><text x="581.20" y="297.05" font-size="9.6" font-weight="bold" stroke="#000" stroke-width="0.2">2µM CIP</text><path d="M556.20 306.80H578.20" stroke="#008080" stroke-width="1.6"/><text x="581.20" y="309.75" font-size="9.6" font-weight="bold" stroke="#000" stroke-width="0.2">3µM CIP</text><path d="M556.20 319.50H578.20" stroke="#ff00ff" stroke-width="1.6"/><text x="581.20" y="322.45" font-size="9.6" font-weight="bold" stroke="#000" stroke-width="0.2">4µM CIP</text><path d="M556.20 332.20H578.20" stroke="#808000" stroke-width="1.6"/><text x="581.20" y="335.15" font-size="9.6" font-weight="bold" stroke="#000" stroke-width="0.2">5µM CIP</text><path d="M556.20 344.90H578.20" stroke="#000080" stroke-width="1.6"/><text x="581.20" y="347.85" font-size="9.6" font-weight="bold" stroke="#000" stroke-width="0.2">6µM CIP</text><path d="M556.20 357.60H578.20" stroke="#800000" stroke-width="1.6"/><text x="581.20" y="360.55" font-size="9.6" font-weight="bold" stroke="#000" stroke-width="0.2">7µM CIP</text><path d="M556.20 370.30H578.20" stroke="#ff0080" stroke-width="1.6"/><text x="581.20" y="373.25" font-size="9.6" font-weight="bold" stroke="#000" stroke-width="0.2">8µM CIP</text><path d="M556.20 383.00H578.20" stroke="#008000" stroke-width="1.6"/><text x="581.20" y="385.95" font-size="9.6" font-weight="bold" stroke="#000" stroke-width="0.2">9µM CIP</text></g>
</svg></body></html>
